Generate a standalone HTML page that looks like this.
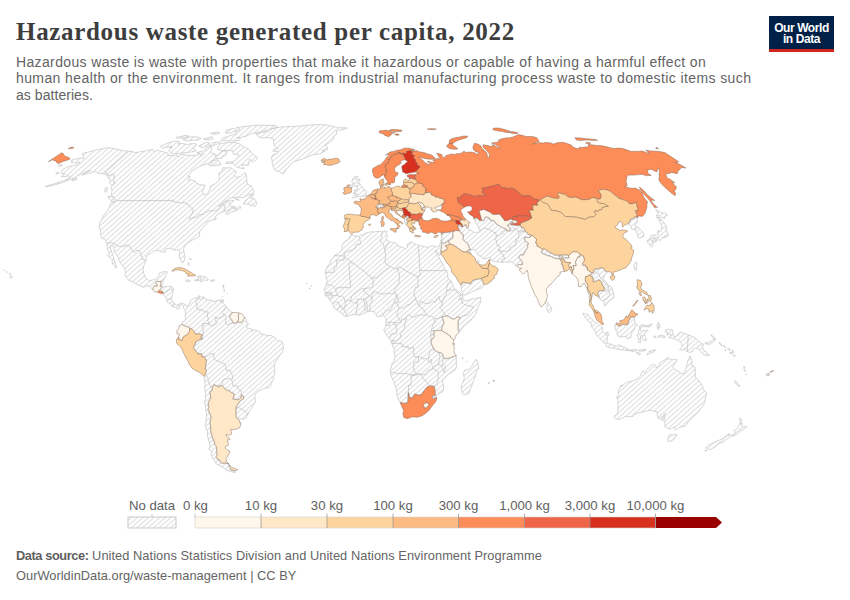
<!DOCTYPE html>
<html><head><meta charset="utf-8"><title>Hazardous waste generated per capita, 2022</title>
<style>
html,body{margin:0;padding:0;background:#fff;}
body{width:850px;height:600px;overflow:hidden;position:relative;font-family:"Liberation Sans",sans-serif;color:#5b5b5b;}
svg{position:absolute;left:0;top:0;}
.nd{fill:url(#h);stroke:#c4c4c4;stroke-width:0.7;stroke-linejoin:round;}
.bd{fill:none;stroke:#bebebe;stroke-width:0.7;stroke-linejoin:round;}
.c{stroke:#735a4a;stroke-width:0.42;stroke-linejoin:round;}
#title{position:absolute;left:16px;top:15.7px;font-family:"Liberation Serif",serif;font-weight:bold;font-size:25px;line-height:32px;color:#3d3d3d;white-space:nowrap;letter-spacing:0.68px;}
#sub{position:absolute;left:16px;top:53.5px;font-size:14px;letter-spacing:0.37px;line-height:16.8px;color:#636363;white-space:nowrap;}
#logo{position:absolute;left:769px;top:16px;width:65px;height:33px;background:#002147;border-bottom:3px solid #ce261e;color:#fff;font-weight:bold;font-size:12px;line-height:12px;text-align:center;letter-spacing:-0.42px;}
#logo div{position:absolute;left:0;width:65px;}
#foot{position:absolute;left:16px;top:546px;font-size:12.8px;line-height:19.8px;color:#646464;white-space:nowrap;}
#foot b{color:#5f5f5f;}
.lg{font-size:13.2px;fill:#616161;font-family:"Liberation Sans",sans-serif;}
</style></head><body>
<svg width="850" height="600" viewBox="0 0 850 600">
<defs><pattern id="h" patternUnits="userSpaceOnUse" width="5.6" height="5.0"><path d="M-1.00,5.89L6.60,-0.89M-1.00,10.89L6.60,4.11M-1.00,0.89L6.60,-5.89" stroke="#e1e1e1" stroke-width="1.3" fill="none"/></pattern></defs>
<g id="map" style="filter:blur(0.5px)">
<path class="nd" d="M219.9,132.9L216.5,132.1L210.3,133.4L215.0,134.4ZM177.5,138.2L183.1,137.9L189.0,136.0L185.3,135.4L176.1,137.5ZM203.3,139.0L208.3,140.0L213.3,139.0L212.1,136.7ZM182.7,139.4L186.1,141.0L192.3,140.4L198.2,140.0L201.0,138.4L196.9,136.7L188.8,137.1ZM217.3,141.8L212.6,142.6L209.4,146.0L211.6,146.2L216.4,144.5L220.5,142.6ZM209.0,144.7L209.2,142.8L205.7,142.4L198.7,146.2L200.3,147.1L203.1,147.5ZM169.8,152.0L172.2,153.8L178.3,153.6L183.1,152.9L187.7,152.5L194.8,151.2L196.2,150.5L192.5,148.3L196.7,144.9L195.7,143.7L191.7,143.7L187.6,144.5L181.6,143.5L177.9,144.0L179.0,143.7L179.1,141.6L174.1,141.2L168.1,142.8L160.4,146.4L162.5,148.1L171.0,146.4L171.9,146.1L170.0,147.3L171.9,147.7L169.2,149.4L169.0,151.2ZM211.5,161.2L211.8,163.3L208.5,164.7L211.0,165.9L214.8,165.4L220.5,164.9L220.5,163.5L217.8,159.6ZM58.1,165.2L59.6,166.3L62.7,165.6L61.2,164.7ZM58.9,172.6L56.1,172.9L55.9,173.9L58.2,173.7ZM71.6,179.9L72.8,180.9L77.1,179.2L76.6,178.2ZM107.9,188.0L105.8,187.5L104.3,190.5L105.7,192.5ZM107.8,197.5L110.4,199.6L111.6,201.6L114.1,202.1L114.1,200.1L113.4,197.3L108.3,196.0ZM185.5,154.9L182.7,154.2L179.2,155.4L178.4,157.2L176.9,155.0L173.0,155.6L167.9,155.4L168.5,154.9L167.3,152.8L163.3,151.8L159.3,150.9L157.4,150.1L154.1,151.8L153.1,150.5L152.9,149.3L146.4,150.6L141.8,151.7L140.2,151.6L135.6,152.7L132.0,151.5L129.0,151.3L123.3,150.5L118.7,149.6L114.3,148.7L108.7,147.5L96.3,149.9L92.9,150.9L84.6,152.9L81.8,154.1L83.7,155.6L83.2,156.9L83.9,158.7L81.5,158.1L75.6,159.0L71.0,160.3L72.6,161.2L71.0,162.4L72.3,162.9L76.6,162.9L80.1,162.2L80.1,162.9L78.7,164.2L75.4,165.2L72.7,165.9L69.2,166.1L66.2,167.5L62.6,169.6L60.9,172.0L61.3,173.7L65.0,173.7L61.3,176.7L65.4,176.5L69.0,175.8L71.0,176.5L66.9,179.2L63.6,180.7L59.2,182.1L56.0,183.4L50.6,184.8L45.0,186.8L50.5,185.8L55.6,184.6L61.0,183.1L69.1,179.9L75.1,177.5L79.1,175.1L82.2,173.4L87.3,171.0L90.5,170.6L85.9,172.2L82.0,175.3L88.7,173.2L90.1,173.4L95.5,171.0L96.6,172.1L98.4,173.4L102.1,173.4L105.3,174.5L107.1,175.8L108.0,177.7L109.4,178.2L110.0,180.7L109.7,183.1L111.0,184.7L112.3,185.6L111.3,187.3L111.2,188.0L112.1,190.5L111.6,193.0L111.3,195.5L114.0,197.3L116.0,199.8L116.1,200.6L114.4,202.6L111.3,202.1L109.2,207.7L105.6,213.3L103.0,216.3L102.1,219.1L99.8,222.6L99.4,226.3L99.7,228.9L100.5,229.4L100.4,232.5L101.1,235.4L101.1,238.1L105.0,239.3L106.5,242.7L106.6,243.1L107.1,244.9L107.5,247.6L107.5,249.7L109.1,252.3L109.5,254.9L107.4,255.3L108.8,257.0L110.7,258.3L112.5,260.2L112.0,262.0L112.7,264.1L115.3,266.7L116.0,268.2L117.0,267.2L115.7,265.0L115.3,263.3L114.2,260.2L113.2,256.2L112.1,252.9L111.1,250.2L110.3,247.1L111.0,245.0L114.0,246.6L114.1,249.2L114.5,252.3L116.6,255.2L118.9,258.3L119.3,261.2L121.5,264.1L124.0,267.5L125.7,271.9L125.5,274.1L124.4,274.8L127.0,278.3L128.5,280.3L131.3,281.2L132.8,282.1L136.1,284.0L140.2,286.0L143.5,287.2L146.6,285.9L149.5,286.3L152.7,289.7L152.8,288.2L152.8,288.1L152.8,288.1L152.9,288.1L152.9,288.0L154.1,285.9L154.2,285.9L154.2,285.9L154.2,285.9L154.2,285.8L154.3,285.8L154.3,285.8L154.3,285.8L154.4,285.8L154.4,285.8L154.4,285.8L157.1,285.7L157.2,285.3L155.3,283.2L155.2,283.2L155.2,283.2L155.2,283.1L155.2,283.1L155.2,283.1L155.2,283.1L155.2,283.0L155.2,283.0L155.2,283.0L155.2,282.9L155.2,282.9L155.2,282.9L155.2,282.8L155.2,282.8L155.2,282.8L156.4,281.3L156.5,281.3L156.5,281.3L156.5,281.3L156.5,281.2L156.6,281.2L156.6,281.2L156.6,281.2L156.7,281.2L156.7,281.2L160.9,281.2L161.0,281.2L161.0,281.2L161.0,281.2L161.0,281.2L161.1,281.2L161.1,281.2L161.1,281.2L161.2,281.2L161.2,281.3L161.2,281.3L161.2,281.3L161.2,281.4L161.3,281.4L161.3,281.4L161.3,281.5L161.3,281.5L161.3,281.5L161.3,281.6L160.6,286.2L160.9,286.2L160.9,286.2L161.0,286.2L161.0,286.2L161.2,286.2L162.4,284.9L163.0,282.3L163.4,281.0L163.1,279.7L163.8,279.7L165.2,277.6L165.7,275.3L167.5,272.8L166.9,271.6L164.8,271.6L160.9,272.4L159.2,273.2L158.6,276.2L155.2,279.5L152.4,280.0L149.1,280.6L147.9,279.5L145.6,277.9L143.6,273.2L143.0,269.3L144.4,264.1L146.1,260.3L146.0,258.1L147.0,255.7L148.9,254.2L151.4,252.9L153.6,251.3L156.4,250.4L159.7,250.8L161.0,251.5L163.8,252.1L165.5,252.3L165.2,251.8L165.3,249.5L166.8,248.7L169.1,248.2L170.8,248.8L172.3,248.7L174.3,250.5L177.7,249.5L178.6,250.5L179.7,252.6L179.3,255.7L179.9,258.3L180.5,259.9L181.7,262.4L183.3,262.2L184.2,260.7L184.9,258.1L184.3,253.6L183.6,248.7L185.5,244.5L188.3,242.7L190.2,241.4L193.3,239.5L197.0,237.7L199.6,236.2L199.6,231.9L199.8,231.2L201.0,230.2L202.7,227.8L203.5,226.5L206.1,224.4L206.8,222.1L211.6,220.3L213.9,219.8L216.0,219.5L216.4,218.5L214.5,217.7L215.5,216.7L217.1,214.4L221.4,212.6L224.9,211.3L227.3,210.3L230.6,209.0L230.5,210.0L227.2,211.8L225.8,213.9L227.0,214.6L231.8,211.8L237.7,210.0L240.7,208.2L240.0,205.7L237.0,209.0L232.5,208.2L231.2,207.7L230.9,205.7L229.1,203.1L231.1,203.1L233.9,200.8L230.7,200.1L225.0,202.1L220.7,205.7L218.0,206.2L224.0,201.8L227.8,199.8L230.9,197.5L235.7,197.4L239.7,197.4L243.6,197.5L247.5,195.0L250.6,194.5L253.9,192.5L254.0,190.5L252.1,187.5L251.7,186.1L248.3,184.8L246.6,181.2L246.8,177.0L245.2,172.5L243.1,173.9L240.6,176.3L236.3,177.5L234.4,175.8L236.5,171.3L235.0,171.0L233.1,169.4L231.0,167.7L227.6,168.0L223.0,167.7L221.9,171.5L219.0,173.4L219.1,176.5L219.4,179.4L217.9,181.9L215.2,183.8L210.1,186.3L210.1,188.5L208.8,191.8L206.2,194.3L203.8,194.8L203.1,192.5L202.7,190.5L205.4,185.1L200.3,184.8L196.3,183.1L195.0,180.9L191.8,179.9L188.5,180.7L190.2,176.5L188.1,176.3L192.3,170.8L198.7,166.8L202.5,165.2L208.1,163.5L211.5,161.2L214.5,159.4L215.1,158.5L221.3,158.3L225.7,154.9L226.9,152.7L227.4,150.9L221.4,151.2L219.4,153.8L214.9,156.5L215.2,153.8L212.1,153.4L211.0,151.6L211.1,150.5L212.1,148.3L210.8,146.2L206.0,147.9L204.5,150.5L203.5,151.6L202.6,150.7L196.7,152.7L197.8,153.4L200.8,153.8L202.6,152.8L203.3,154.9L200.3,156.5L201.1,154.5L199.1,153.8L197.0,155.4L193.6,155.4L190.2,155.4ZM191.2,258.9L189.5,258.3L190.2,259.4L191.3,259.9ZM189.0,263.0L188.2,262.5L188.0,264.9L188.9,265.4ZM3.8,270.9L4.1,270.1L3.1,270.3ZM6.2,271.8L6.6,272.6L7.4,272.0ZM9.3,273.3L9.8,274.2L10.8,273.7ZM10.0,276.6L10.4,278.6L12.2,277.6L12.4,276.5L10.7,275.2ZM199.2,279.6L197.8,279.5L194.5,280.1L195.9,280.9L198.8,280.6L200.5,280.9L201.2,282.1L201.9,281.8L204.8,279.9L207.5,280.5L208.4,279.5L206.6,277.6L205.1,276.9L203.4,276.2L200.5,276.1L197.3,276.2L197.2,276.6L198.4,278.2ZM214.5,280.1L211.0,279.9L210.8,281.2L213.8,281.0ZM185.7,280.5L188.1,281.7L190.4,281.0L188.7,279.9L185.6,280.1ZM222.1,296.2L222.1,296.7L222.4,296.7L222.5,296.2ZM169.1,303.0L170.2,303.2L171.2,305.6L173.0,307.0L175.5,307.1L176.2,308.2L177.5,309.2L179.6,308.6L178.8,306.9L179.7,306.3L180.9,304.6L182.1,304.6L183.9,306.1L183.3,307.0L183.7,308.4L184.4,309.2L185.3,310.5L185.4,313.4L185.0,317.0L185.9,317.8L184.7,321.2L182.6,321.5L182.0,323.3L181.9,323.9L182.0,323.9L182.0,323.9L182.0,323.9L182.1,323.9L182.1,323.9L184.3,325.6L188.4,326.9L188.5,326.9L188.5,326.9L188.5,326.9L190.1,328.0L192.2,329.0L192.2,329.0L192.2,329.0L192.2,329.0L192.3,329.1L194.1,331.0L194.1,331.0L194.2,331.1L194.2,331.1L195.7,333.9L198.0,333.4L198.0,333.4L198.1,333.4L198.1,333.4L198.1,333.4L198.2,333.4L202.2,334.7L202.2,334.7L202.3,334.7L202.3,334.8L202.3,334.8L202.4,334.8L202.4,334.8L202.4,334.9L202.4,334.9L202.4,334.9L202.4,334.9L202.5,335.0L202.5,335.0L202.5,335.0L202.5,335.1L202.5,335.1L202.4,335.1L202.4,335.2L202.4,335.2L201.1,337.8L202.6,338.7L202.6,338.7L202.7,338.7L202.7,338.7L202.7,338.7L202.7,338.8L202.7,338.8L202.8,338.8L202.8,338.9L202.8,338.9L202.8,338.9L202.8,339.0L202.8,339.0L202.8,339.0L202.8,339.1L202.8,339.1L202.7,339.1L202.7,339.2L202.7,339.2L202.7,339.2L202.6,339.2L202.6,339.3L202.6,339.3L202.6,339.3L202.5,339.3L202.5,339.3L202.5,339.3L200.6,339.4L196.0,341.8L195.4,344.0L195.4,344.0L195.4,344.1L194.3,346.1L193.8,347.5L196.4,351.5L197.8,352.8L197.8,352.8L197.8,352.8L197.9,352.9L197.9,352.9L197.9,352.9L197.9,353.0L198.1,353.7L201.5,353.5L201.5,353.5L201.5,353.5L201.6,353.5L201.6,353.5L201.6,353.5L201.7,353.5L201.7,353.5L201.7,353.6L201.8,353.6L201.8,353.6L201.8,353.6L201.8,353.7L201.8,353.7L201.8,353.7L201.8,353.8L201.9,353.8L202.0,356.3L204.0,356.2L204.0,356.2L204.1,356.2L204.1,356.2L204.1,356.2L204.2,356.3L204.2,356.3L204.2,356.3L204.3,356.3L204.3,356.3L204.3,356.4L204.3,356.4L206.7,360.4L206.7,360.5L206.7,360.5L206.7,360.5L206.7,360.6L206.7,360.6L206.7,360.7L206.7,360.7L206.1,363.6L205.6,366.6L206.2,367.8L206.2,367.8L206.2,367.8L206.2,367.9L206.2,367.9L206.2,367.9L206.2,368.0L206.2,368.0L206.2,368.0L206.2,368.1L206.2,368.1L206.2,368.1L206.1,368.2L206.1,368.2L206.1,368.2L206.1,368.2L206.0,368.2L205.3,368.6L206.6,370.0L206.6,370.1L206.6,370.1L206.6,370.1L206.6,370.2L206.7,370.2L206.7,370.2L206.7,370.3L206.7,370.3L206.7,370.3L206.6,370.4L206.3,371.4L205.9,373.7L205.9,373.8L205.9,373.8L205.9,373.8L205.0,375.4L205.0,375.4L205.0,375.4L205.0,375.5L205.0,375.5L204.9,375.5L204.0,376.2L203.9,376.2L203.9,376.2L203.9,376.2L203.9,376.2L203.8,376.2L204.7,380.7L205.1,385.4L204.6,388.1L205.1,389.6L205.5,394.3L205.3,398.7L204.6,402.4L205.6,406.0L205.2,407.1L205.8,408.9L206.5,414.2L206.1,420.6L205.8,423.8L205.1,425.1L205.9,427.1L207.5,431.9L207.5,434.9L207.8,437.0L208.7,440.9L209.7,442.7L210.1,446.5L208.8,449.3L212.0,451.6L210.9,454.2L212.7,458.0L215.1,461.7L217.0,464.7L219.7,465.5L223.8,468.0L225.5,469.7L230.2,471.4L235.0,472.8L235.5,470.9L231.3,470.5L231.3,470.5L231.3,470.5L231.2,470.5L231.2,470.5L231.2,470.5L231.1,470.5L231.1,470.4L231.1,470.4L231.1,470.4L231.1,470.4L231.0,470.3L228.6,464.7L228.6,464.7L228.6,464.7L228.6,464.6L228.6,464.6L228.6,464.6L228.6,464.5L228.6,464.5L228.6,464.5L228.6,464.5L228.6,464.4L228.7,464.4L228.7,464.4L228.7,464.3L228.7,464.3L228.8,464.3L228.8,464.3L228.8,464.3L228.9,464.3L228.9,464.3L228.9,464.3L229.0,464.3L229.0,464.3L229.0,464.2L229.0,464.2L228.9,464.2L225.5,463.3L221.8,463.3L221.7,463.3L221.7,463.3L221.7,463.3L221.6,463.3L221.6,463.3L221.6,463.3L220.5,462.5L220.4,462.5L220.4,462.5L220.4,462.5L220.4,462.4L220.3,462.4L220.3,462.4L219.4,460.3L217.6,459.8L217.6,459.8L217.5,459.8L217.5,459.8L217.5,459.7L217.5,459.7L217.4,459.7L217.4,459.7L217.4,459.6L217.4,459.6L215.8,456.3L215.8,456.3L215.8,456.3L215.8,456.2L215.8,456.2L215.8,456.2L215.8,456.1L215.8,456.1L215.8,456.1L215.8,456.0L215.9,456.0L215.9,456.0L217.0,454.6L216.2,452.0L216.2,451.9L216.2,451.9L216.2,451.9L216.2,451.8L216.2,451.8L216.6,449.6L216.1,446.6L214.2,444.2L214.2,444.1L214.2,444.1L214.2,444.1L214.2,444.0L214.2,444.0L214.2,444.0L214.1,442.0L212.7,438.9L212.7,438.9L211.4,435.0L211.4,435.0L210.5,431.1L210.5,431.1L210.5,431.0L210.4,427.2L209.8,423.3L209.8,423.3L209.8,423.2L209.8,423.2L210.1,420.1L210.2,420.0L210.2,420.0L211.0,417.3L209.9,414.2L207.8,409.6L207.8,409.5L207.8,409.5L207.8,409.4L207.8,409.4L207.8,409.4L207.8,409.3L207.8,409.3L208.6,406.8L207.9,404.5L207.9,404.5L207.9,404.5L207.9,404.4L207.9,404.4L208.2,402.3L208.2,402.3L208.2,402.2L208.3,402.2L209.2,400.1L209.3,400.1L209.3,400.1L210.7,398.1L209.6,392.0L209.6,392.0L209.6,391.9L209.6,391.9L209.6,391.9L209.6,391.8L209.6,391.8L209.6,391.8L209.6,391.7L209.7,391.7L209.7,391.7L209.7,391.7L209.7,391.6L209.8,391.6L211.9,390.4L212.2,388.1L211.9,387.8L211.9,387.8L211.9,387.7L211.8,387.7L211.8,387.7L211.8,387.6L211.8,387.6L211.8,387.6L211.8,387.5L211.8,387.5L211.8,387.5L211.8,387.4L211.8,387.4L211.8,387.4L211.9,387.4L213.6,384.7L213.6,384.7L213.6,384.6L213.6,384.6L213.7,384.6L213.7,384.6L213.7,384.6L213.8,384.5L213.8,384.5L213.8,384.5L213.9,384.5L213.9,384.5L213.9,384.5L214.0,384.5L216.5,385.3L216.6,385.3L216.6,385.4L216.6,385.4L216.6,385.4L218.5,386.9L219.0,385.3L219.0,385.3L219.0,385.2L219.0,385.2L219.1,385.2L219.1,385.1L219.1,385.1L219.1,385.1L219.2,385.1L219.2,385.1L219.2,385.1L219.3,385.1L219.3,385.1L219.3,385.1L219.4,385.1L219.4,385.1L222.3,385.7L222.3,385.7L222.4,385.7L222.4,385.7L222.4,385.8L222.4,385.8L222.5,385.8L226.5,389.8L228.7,390.3L228.8,390.3L228.8,390.3L228.8,390.3L228.8,390.3L231.7,392.4L234.4,393.7L234.5,393.7L234.5,393.7L234.5,393.8L234.6,393.8L234.6,393.8L234.6,393.8L234.6,393.9L234.6,393.9L234.6,393.9L234.6,394.0L234.6,394.0L234.6,394.0L234.6,394.1L234.6,394.1L233.2,398.8L237.7,399.4L238.7,399.0L241.0,397.5L240.9,394.8L240.9,394.8L240.9,394.7L240.9,394.7L240.9,394.7L240.9,394.6L240.9,394.6L240.9,394.6L241.0,394.6L241.0,394.5L241.0,394.5L241.0,394.5L241.1,394.5L241.1,394.5L241.1,394.5L241.2,394.4L241.2,394.4L241.2,394.4L241.3,394.5L241.3,394.5L241.4,394.5L241.4,394.5L241.4,394.5L243.7,396.1L243.7,396.1L243.8,396.1L243.8,396.1L243.8,396.2L243.8,396.2L243.8,396.2L243.9,396.3L243.9,396.3L243.9,396.3L243.9,396.4L243.8,398.8L243.8,398.9L243.8,398.9L243.8,398.9L243.8,399.0L243.8,399.0L243.8,399.0L243.7,399.1L243.7,399.1L243.7,399.1L243.7,399.1L243.6,399.1L243.6,399.2L241.6,400.0L239.7,402.1L236.5,406.9L236.2,412.8L236.4,416.7L236.5,416.8L237.6,417.9L241.3,419.1L244.1,419.2L246.3,417.8L246.9,416.1L249.0,411.9L250.7,409.7L252.3,407.1L253.3,404.5L255.1,402.4L255.3,400.0L254.8,396.4L254.9,394.5L256.1,393.2L259.4,390.6L261.4,390.1L263.1,388.9L266.2,387.9L268.9,387.9L271.0,385.4L271.1,383.6L272.3,381.0L273.3,379.1L273.4,376.5L274.5,374.2L274.9,369.7L274.5,366.6L274.4,364.5L275.4,361.9L277.6,358.8L278.6,356.7L279.8,355.4L281.6,353.2L282.5,352.0L283.3,349.0L283.5,346.7L283.0,345.0L282.4,341.8L280.6,341.3L277.6,340.3L274.8,337.7L271.3,335.4L267.2,335.6L263.7,334.1L261.4,334.5L260.7,332.7L257.5,330.7L254.5,329.6L251.7,331.7L252.9,329.8L251.9,328.8L250.6,328.5L247.3,328.0L246.4,327.5L248.5,323.6L246.7,322.5L245.8,317.8L244.9,317.2L242.6,321.6L242.6,321.7L242.6,321.7L242.6,321.7L241.9,322.5L241.8,322.5L241.8,322.5L241.8,322.6L241.8,322.6L241.7,322.6L241.7,322.6L241.7,322.6L241.6,322.6L241.6,322.6L241.6,322.6L237.7,322.2L234.8,323.5L234.8,323.5L234.8,323.5L234.7,323.5L234.7,323.5L234.7,323.5L234.6,323.5L233.2,323.3L233.2,323.2L233.2,323.2L233.1,323.2L233.1,323.2L233.1,323.2L233.0,323.2L233.0,323.1L233.0,323.1L233.0,323.1L231.2,319.5L229.6,317.8L229.6,317.8L229.5,317.8L229.5,317.7L229.5,317.7L229.5,317.7L229.5,317.6L229.5,317.6L229.5,317.6L229.5,317.5L229.5,317.5L230.0,315.1L230.0,315.1L230.0,315.1L230.0,315.0L230.0,315.0L230.1,315.0L230.1,315.0L230.1,314.9L231.3,314.0L231.7,312.4L231.7,312.4L231.7,312.3L231.7,312.3L231.7,312.3L231.7,312.2L231.8,312.2L229.8,310.3L229.0,310.0L226.1,306.3L223.8,303.7L222.2,302.2L220.5,302.2L219.9,301.4L221.6,300.1L221.5,301.6L223.6,301.6L223.8,299.8L221.6,300.1L221.7,300.0L219.7,300.1L217.2,300.2L215.1,301.5L213.9,301.6L211.9,300.3L210.1,300.3L207.5,300.6L206.7,298.8L203.6,298.0L203.2,296.2L202.4,297.7L200.7,299.3L199.4,299.4L198.7,297.7L200.1,297.1L200.7,296.4L199.5,295.5L198.1,296.9L196.2,298.0L193.5,298.5L191.9,299.2L190.3,300.9L190.0,303.0L188.1,304.8L186.8,306.9L185.8,305.4L184.4,303.7L182.2,303.1L180.1,303.6L177.9,304.8L176.3,305.0L174.8,303.7L174.0,303.1L173.1,301.9L171.7,299.5L171.7,296.7L172.5,294.1L172.9,291.5L173.6,288.9L172.0,286.8L169.8,286.4L167.5,286.4L165.2,286.8L163.0,286.6L162.7,286.8L162.7,286.9L162.7,286.9L162.8,286.9L162.8,286.9L162.8,287.0L162.8,287.0L162.8,287.0L162.8,287.1L162.8,287.1L162.8,287.1L162.7,287.2L162.7,287.2L162.7,287.2L162.7,287.3L162.7,287.3L160.2,289.6L159.9,290.2L161.4,291.3L163.1,291.7L163.2,291.7L163.2,291.7L163.2,291.7L163.3,291.7L163.3,291.7L163.3,291.8L163.3,291.8L163.4,291.8L163.4,291.8L163.4,291.9L163.4,291.9L163.4,291.9L163.4,292.0L163.4,292.0L163.4,292.0L163.4,292.1L163.0,293.6L163.0,293.7L163.0,293.7L163.0,293.7L163.0,293.7L163.6,294.1L162.9,294.3L165.4,297.2L167.1,299.2L166.7,301.1L168.2,303.1ZM225.5,133.1L230.6,133.1L236.8,130.3L234.3,128.3L226.0,130.3ZM228.5,136.6L228.2,136.5L222.9,137.9L220.9,140.6L229.1,141.0L238.8,140.6L240.5,138.8L236.9,137.5L240.1,137.5L245.8,136.4L251.6,133.4L257.2,132.9L270.1,129.1L277.6,127.0L276.2,125.6L268.3,125.3L256.1,125.3L245.0,126.5L236.6,127.6L240.1,129.3L235.4,132.1L236.2,134.0L230.0,135.6ZM328.6,143.0L331.5,141.0L334.5,137.9L333.4,136.2L336.9,134.0L336.1,131.2L340.7,130.0L347.4,128.3L346.7,127.8L338.4,127.8L333.2,126.5L326.8,125.1L319.0,124.5L309.3,125.0L300.4,126.0L291.8,126.5L280.4,127.0L272.6,128.6L269.6,131.2L264.8,131.8L255.8,133.6L256.8,135.0L259.1,136.9L261.8,137.9L269.0,137.5L273.4,139.0L273.6,141.0L273.9,144.5L274.6,146.2L278.4,148.3L273.8,149.4L272.9,151.2L278.5,151.6L278.0,152.7L272.8,154.9L271.4,157.4L272.1,160.6L272.2,163.5L272.8,165.2L274.1,168.7L275.3,170.3L279.4,171.8L282.5,173.9L284.7,172.2L286.8,168.7L290.6,165.2L293.5,161.7L298.1,160.3L301.1,159.6L306.9,157.2L312.7,154.7L319.7,153.8L325.3,150.9L322.1,150.5L327.3,149.4L327.7,147.3L325.0,145.1ZM223.5,150.5L227.7,150.5L232.5,150.7L233.4,154.2L238.3,154.5L239.1,156.0L236.2,159.4L233.0,161.7L226.8,161.9L225.8,163.5L233.0,163.3L235.2,165.6L238.5,167.7L244.3,168.7L241.9,164.7L248.2,165.6L249.1,162.9L249.4,159.0L252.2,161.9L255.6,160.3L258.0,158.1L257.2,157.2L254.6,155.6L251.2,152.7L250.0,150.5L247.3,148.3L243.5,146.8L241.5,145.1L240.5,144.3L235.5,142.6L229.4,142.4L221.3,143.5L219.0,145.1L218.0,147.3L217.2,149.2L220.6,150.1ZM349.9,185.4L349.9,185.4L349.9,185.5L349.9,185.5L349.9,185.5L349.9,185.6L349.9,185.6L349.8,185.6L349.8,185.7L349.8,185.7L349.1,186.4L349.1,186.4L349.0,186.5L348.5,186.9L349.4,187.3L351.4,187.4L351.4,187.4L351.5,187.4L351.5,187.5L351.5,187.5L351.6,187.5L351.6,187.5L351.6,187.5L351.6,187.6L351.7,187.6L351.7,187.6L351.7,187.6L351.7,187.7L351.7,187.7L351.7,187.7L351.7,187.9L351.8,187.9L353.0,187.0L352.7,186.3L351.7,185.0L350.2,185.1L349.9,185.3L349.9,185.4ZM364.1,190.5L363.7,189.0L362.7,187.3L360.8,185.6L359.7,183.6L357.4,183.1L358.6,182.4L359.5,180.3L360.1,179.6L359.9,179.0L355.6,179.4L356.0,178.5L357.8,176.7L354.2,176.8L353.6,177.6L352.6,178.7L352.7,179.9L351.7,181.4L352.8,183.1L352.4,184.8L354.1,183.4L354.5,184.3L353.7,185.6L354.1,186.4L357.5,185.7L356.5,186.8L358.0,187.8L357.7,188.0L357.7,189.4L357.5,189.8L354.5,189.8L355.1,190.0L354.3,191.0L355.5,190.8L355.4,192.0L353.0,193.3L353.4,193.9L355.6,194.1L357.2,194.4L358.2,194.1L357.6,195.0L354.6,195.5L353.5,196.7L352.1,197.9L353.1,198.1L355.1,197.2L356.3,197.4L358.6,196.7L359.5,196.5L361.3,196.2L364.0,196.2L365.4,195.8L366.3,195.1L366.3,194.6L365.3,194.3L365.9,193.5L366.9,191.8L366.0,190.6ZM234.6,198.2L235.9,199.6L239.3,200.3L238.9,199.6ZM256.3,201.8L255.1,199.3L252.5,198.0L250.4,198.3L251.6,197.5L253.8,194.0L250.9,194.8L248.5,198.0L244.3,201.7L245.3,201.8L242.9,204.1L246.6,204.1L249.7,204.1L250.2,205.9L253.2,204.4L253.2,205.9L254.9,206.6L256.4,204.3ZM383.8,206.5L383.9,206.5L383.9,206.5L383.9,206.4L383.9,206.4L384.0,206.4L384.0,206.4L384.0,206.4L384.0,206.4L382.9,205.8L382.9,205.8L382.9,205.8L382.8,205.8L382.8,205.8L382.8,205.7L382.8,205.7L382.8,205.7L382.8,205.6L382.7,205.6L382.7,205.6L382.6,204.6L381.7,204.2L381.0,204.0L380.4,204.4L380.3,204.4L380.3,204.5L380.3,204.5L380.2,204.5L380.2,204.5L380.2,204.5L379.0,204.5L377.8,205.2L376.3,206.8L376.2,207.2L377.3,206.9L377.4,206.8L377.4,206.8L377.4,206.8L377.5,206.8L377.5,206.8L377.5,206.9L377.6,206.9L377.6,206.9L377.6,206.9L377.6,206.9L377.7,206.9L377.7,207.0L377.7,207.0L377.7,207.0L377.7,207.1L377.8,207.1L377.8,207.1L377.8,207.1L377.9,208.1L377.9,208.1L378.0,208.1L379.4,208.1L379.8,207.5L379.8,207.5L379.9,207.4L380.6,206.8L380.6,206.8L380.6,206.8L380.6,206.7L380.7,206.7L380.7,206.7L380.7,206.7L380.8,206.7L380.8,206.7L380.8,206.7L380.9,206.7L380.9,206.7L380.9,206.7L381.0,206.8L381.0,206.8L381.0,206.8L381.1,206.8L381.1,206.8L381.9,207.9L382.2,206.8L382.2,206.8L382.2,206.8L382.2,206.7L382.3,206.7L382.3,206.7L382.3,206.7L382.3,206.6L382.4,206.6L382.4,206.6L382.4,206.6L382.5,206.6L382.5,206.6L382.5,206.6L382.6,206.6L382.6,206.6L382.6,206.6L382.7,206.6L382.7,206.6L382.7,206.6L382.8,206.7L382.8,206.7L383.2,207.1L383.9,207.2L383.8,206.7L383.8,206.7L383.8,206.7L383.8,206.6L383.8,206.6L383.8,206.6ZM232.0,206.4L232.4,207.2L235.2,208.2L236.5,207.1ZM407.6,221.8L407.6,221.6L407.0,221.1L407.0,221.1L406.9,221.0L406.5,220.4L406.4,220.4L406.4,220.3L406.4,220.3L406.4,220.3L406.4,220.2L406.4,220.2L406.4,220.2L406.5,218.8L406.5,218.8L406.5,218.7L406.5,218.7L406.5,218.7L406.5,218.7L406.5,218.6L406.6,218.6L406.6,218.6L406.6,218.6L407.4,218.0L407.4,217.9L407.5,217.9L407.5,217.9L408.5,217.6L408.7,216.8L408.0,216.2L407.1,215.7L406.9,216.1L406.8,216.1L406.8,216.1L406.8,216.2L406.3,216.6L405.8,217.3L405.8,217.3L405.8,217.3L405.8,217.3L405.7,217.4L405.7,217.4L405.7,217.4L405.6,217.4L405.6,217.4L405.6,217.4L404.8,217.4L404.6,217.8L404.6,218.8L404.6,218.9L404.6,218.9L404.6,218.9L404.6,219.0L404.6,219.0L404.5,219.0L404.5,219.1L404.5,219.1L404.5,219.1L404.5,219.1L404.4,219.2L404.4,219.2L404.4,219.2L404.3,219.2L404.3,219.2L404.5,220.3L404.4,222.0L404.7,222.5L405.9,223.9L406.0,224.2L406.6,223.9L407.0,223.3ZM469.5,250.0L469.0,249.8L468.0,250.3L467.3,251.8L468.9,252.0L468.9,252.0L468.9,252.0L469.0,252.0L469.0,252.0L469.0,252.1L469.1,252.1L469.1,252.1L469.1,252.1L469.1,252.2L469.7,253.2L471.0,253.2L470.2,251.5L469.7,251.4L470.1,250.9L470.7,250.2L469.6,250.1L469.5,250.1L469.5,250.1ZM305.9,283.3L305.9,283.8L306.6,283.8L306.7,283.3ZM222.7,285.3L222.8,286.3L223.8,286.4L224.1,285.3ZM311.8,285.7L311.2,285.7L311.2,286.4L311.8,286.4ZM484.1,284.7L484.1,284.7L481.2,278.8L475.0,279.8L472.7,280.8L470.7,284.0L470.7,284.0L470.7,284.0L470.7,284.0L470.7,284.1L470.6,284.1L470.6,284.1L470.6,284.1L470.5,284.1L470.5,284.1L470.5,284.1L470.4,284.1L470.4,284.1L470.4,284.1L470.3,284.1L470.3,284.1L468.9,283.5L466.2,282.9L464.0,282.9L464.0,282.9L462.5,282.7L462.2,284.5L462.2,284.5L462.2,284.5L462.2,284.6L462.1,284.6L462.1,284.6L462.1,284.7L462.1,284.7L462.0,284.7L460.9,285.5L460.9,285.5L460.9,285.5L460.9,285.5L460.8,285.5L460.8,285.6L460.8,285.6L461.2,288.9L462.5,293.3L462.9,295.0L464.2,295.1L466.5,294.6L469.8,293.0L473.2,291.5L475.6,290.2L478.7,288.9L482.5,287.3L484.2,284.8L484.2,284.8L484.2,284.8L484.1,284.8L484.1,284.8ZM223.3,287.3L223.3,288.2L223.7,288.2L223.8,287.4ZM309.9,289.1L310.0,288.3L309.2,288.3L309.3,289.0ZM223.8,289.3L224.0,290.2L224.5,290.3L224.6,289.5ZM224.0,291.3L224.0,292.1L224.3,292.1L224.4,291.3ZM227.5,293.4L227.1,293.3L227.2,293.9L227.5,293.9ZM423.6,246.2L420.7,245.8L418.8,245.4L416.2,244.4L414.7,244.0L413.1,242.5L410.8,242.2L408.7,242.9L407.6,244.2L407.6,247.4L405.5,248.9L403.2,247.6L400.1,246.6L397.8,245.8L396.6,243.5L394.6,242.7L392.4,242.2L390.5,242.3L388.8,241.5L387.5,240.2L385.5,239.5L386.9,237.3L387.6,236.2L386.6,234.6L386.3,233.0L387.3,231.3L385.7,231.9L384.6,230.6L382.0,231.6L380.2,231.7L377.1,231.3L374.5,232.1L372.1,231.7L370.1,232.0L366.3,232.8L363.7,234.1L361.3,234.9L358.7,236.4L357.0,235.9L354.2,236.2L352.0,234.3L350.7,234.6L350.1,236.2L348.7,239.2L346.9,240.3L344.9,241.2L343.2,243.5L341.9,245.8L342.2,248.7L340.9,251.3L338.3,253.6L334.8,255.1L333.6,257.3L331.1,259.8L330.2,262.8L327.7,266.2L325.4,270.9L325.0,273.7L326.2,274.2L326.1,277.4L327.2,280.8L325.9,286.1L323.6,289.6L324.7,290.4L325.1,292.5L325.1,293.8L325.3,295.8L327.8,297.1L329.1,299.3L330.0,300.6L332.1,303.2L333.0,304.4L333.1,305.8L334.8,308.7L337.1,310.0L338.7,311.6L341.9,313.4L342.8,315.0L346.1,316.6L349.7,315.7L354.3,314.3L356.4,314.7L358.7,315.6L363.0,313.5L365.6,312.9L366.3,312.1L367.2,311.8L369.7,311.4L371.3,311.3L373.9,311.6L375.9,314.4L377.5,316.8L379.6,316.5L382.6,316.1L383.1,315.6L384.0,316.3L385.6,317.8L386.3,320.2L386.1,321.9L385.6,325.4L385.2,327.0L384.9,328.5L383.6,329.7L384.9,332.2L386.5,335.0L389.1,338.3L390.8,340.5L391.1,341.0L391.6,343.0L391.7,343.8L392.9,346.3L394.3,349.7L393.8,351.0L393.8,352.5L395.1,356.2L394.2,360.9L392.1,363.0L391.2,367.7L390.3,369.7L390.3,373.0L390.8,375.0L393.6,381.2L396.0,387.9L396.8,393.2L397.3,397.4L398.5,399.8L399.9,402.3L399.9,402.3L399.9,402.3L400.0,402.3L400.0,402.3L400.0,402.3L400.1,402.3L400.1,402.3L402.2,402.5L402.2,402.5L402.3,402.6L403.5,402.9L405.6,403.1L407.6,401.9L408.0,392.6L408.0,392.5L408.0,392.5L408.1,392.5L408.1,392.4L408.1,392.4L408.1,392.4L408.1,392.3L408.1,392.3L408.2,392.3L408.2,392.3L408.2,392.3L408.3,392.2L408.3,392.2L408.3,392.2L408.4,392.2L408.4,392.2L408.4,392.2L408.5,392.2L408.5,392.3L408.5,392.3L408.6,392.3L408.6,392.3L408.6,392.3L408.6,392.3L408.7,392.4L408.7,392.4L408.7,392.4L408.7,392.5L408.7,392.5L410.0,397.8L412.4,397.2L414.0,394.4L414.1,394.3L414.1,394.3L414.1,394.3L414.1,394.3L414.8,393.7L414.9,393.7L414.9,393.7L414.9,393.7L415.0,393.7L415.0,393.7L415.0,393.7L415.1,393.7L415.1,393.7L415.1,393.7L415.2,393.7L418.0,394.7L420.7,394.7L423.5,391.1L426.1,387.8L426.1,387.8L427.0,386.7L427.0,386.7L427.1,386.7L427.1,386.7L427.1,386.6L429.6,385.6L429.6,385.6L429.6,385.6L429.7,385.6L429.7,385.6L429.7,385.6L434.1,386.1L434.1,386.1L434.2,386.1L434.2,386.1L434.2,386.1L434.3,386.2L434.3,386.2L434.3,386.2L434.3,386.2L434.4,386.3L434.4,386.3L434.4,386.3L434.4,386.3L434.4,386.4L435.6,391.9L435.6,391.9L435.6,391.9L435.6,391.9L435.4,395.7L435.4,395.8L435.4,395.8L435.4,395.8L435.4,395.9L435.3,395.9L435.3,395.9L435.3,395.9L435.3,396.0L435.2,396.0L435.2,396.0L435.2,396.0L435.1,396.0L435.1,396.1L435.1,396.1L435.0,396.1L435.0,396.1L435.0,396.1L434.9,396.0L434.9,396.0L434.9,396.0L433.7,395.4L433.2,395.5L432.7,396.7L432.6,397.8L433.4,398.8L435.0,397.6L435.0,397.6L435.0,397.6L435.1,397.6L435.1,397.6L435.1,397.6L435.2,397.6L435.2,397.6L436.9,397.7L436.4,395.8L437.5,394.0L442.0,392.4L443.4,390.1L443.6,385.7L442.6,382.5L442.5,379.8L445.9,377.1L447.6,374.7L449.9,373.4L454.6,370.5L456.5,367.3L456.8,365.8L456.2,361.8L456.4,360.9L456.3,355.8L450.7,357.8L450.7,357.8L447.2,358.9L447.2,358.9L447.1,358.9L447.1,358.9L447.1,358.9L443.5,358.5L443.5,358.5L443.5,358.5L443.4,358.5L443.4,358.5L443.4,358.5L443.4,358.5L443.3,358.4L443.3,358.4L443.3,358.4L443.3,358.4L443.2,358.3L443.2,358.3L443.2,358.3L442.4,354.3L441.4,353.1L439.1,352.9L439.1,352.9L439.0,352.9L439.0,352.8L436.6,351.8L436.6,351.8L436.6,351.8L436.5,351.8L434.0,349.8L434.0,349.8L434.0,349.8L434.0,349.7L434.0,349.7L433.9,349.7L431.1,343.8L431.0,343.8L431.0,343.7L431.0,343.7L431.0,343.7L430.8,339.6L430.8,339.6L430.8,339.6L430.8,339.5L430.9,339.5L430.9,339.5L430.9,339.4L430.9,339.4L430.9,339.4L430.9,339.4L431.0,339.3L431.0,339.3L431.0,339.3L431.1,339.3L431.1,339.3L432.4,338.9L433.5,337.2L433.5,337.2L433.5,337.2L434.2,336.4L433.6,334.4L433.5,334.3L433.5,334.3L433.5,334.3L433.5,334.2L433.5,334.2L433.6,334.2L433.6,334.1L434.2,332.3L433.4,330.9L433.4,330.9L433.4,330.9L433.4,330.8L433.4,330.8L433.4,330.8L433.4,330.7L433.4,330.7L433.4,330.7L433.4,330.6L433.4,330.6L433.4,330.6L433.4,330.6L433.5,330.5L433.5,330.5L433.5,330.5L433.5,330.5L433.6,330.4L433.6,330.4L433.6,330.4L433.7,330.4L433.7,330.4L436.5,330.3L436.6,330.3L441.3,330.3L441.5,327.5L441.5,327.4L441.5,327.4L441.5,327.4L441.6,327.3L442.7,325.0L442.7,325.0L443.8,323.0L442.4,318.5L441.5,317.2L441.5,317.2L441.5,317.2L441.5,317.2L441.4,317.1L441.4,317.1L441.4,317.1L441.4,317.0L441.4,317.0L441.4,317.0L441.5,316.9L441.5,316.9L441.5,316.9L441.5,316.8L441.5,316.8L441.6,316.8L441.6,316.8L441.6,316.7L441.6,316.7L441.7,316.7L441.7,316.7L446.1,315.7L446.1,315.7L446.1,315.6L446.2,315.6L446.2,315.7L448.5,316.0L448.5,316.1L448.6,316.1L448.6,316.1L448.6,316.1L448.7,316.1L451.4,318.3L454.4,318.8L457.2,316.6L457.3,316.6L457.3,316.6L457.3,316.6L457.4,316.6L457.4,316.6L457.4,316.6L457.5,316.6L457.5,316.6L457.5,316.6L460.1,317.3L460.1,317.3L460.1,317.3L460.2,317.3L460.2,317.3L460.2,317.4L460.3,317.4L460.3,317.4L460.3,317.4L460.3,317.5L460.3,317.5L460.3,317.5L460.3,317.6L460.3,317.6L460.3,317.6L460.3,317.7L460.3,317.7L460.3,317.7L460.3,317.8L460.3,317.8L458.3,320.8L458.3,330.1L459.5,332.0L461.6,328.9L464.9,325.1L468.0,322.7L470.2,321.2L473.8,316.8L476.0,313.6L478.0,307.6L480.1,303.5L480.7,300.7L481.0,297.1L478.1,298.0L475.6,298.5L471.2,299.0L469.7,300.0L466.7,300.7L464.4,300.7L462.6,298.1L462.4,297.7L462.9,296.8L462.2,294.9L460.5,293.6L458.8,291.7L456.6,289.6L454.8,288.9L453.4,287.3L452.8,284.9L451.2,281.0L448.3,278.9L447.8,276.9L447.6,273.2L446.8,270.6L443.7,268.0L444.0,265.6L443.3,265.4L442.0,263.0L440.2,259.9L438.9,257.0L437.1,254.4L435.9,252.3L435.3,251.0L435.5,249.9L437.2,252.6L438.2,254.2L439.8,255.6L440.2,254.9L440.5,252.3L440.7,251.8L440.6,251.4L440.6,251.4L440.7,250.7L440.7,250.7L441.2,247.1L441.2,247.1L441.4,245.8L441.2,243.5L441.2,243.5L441.2,243.4L441.2,243.4L441.2,243.4L441.2,243.3L441.5,242.4L441.5,242.4L441.6,242.4L441.6,242.3L441.6,242.3L441.6,242.3L441.7,242.3L441.7,242.2L441.7,242.2L441.7,242.2L441.8,242.2L441.8,242.2L441.9,242.2L441.9,242.2L441.9,242.2L442.0,242.2L442.0,242.2L442.0,242.2L444.3,243.3L448.2,240.6L448.2,240.6L452.5,238.0L452.7,237.2L452.4,233.1L452.4,233.0L452.4,233.0L452.4,233.0L452.4,232.9L452.4,232.9L452.4,232.9L452.4,232.8L452.5,232.8L452.5,232.8L453.8,231.6L451.9,231.6L449.9,232.3L449.9,232.3L449.8,232.3L449.8,232.3L447.0,232.6L447.0,232.6L443.4,232.7L443.3,232.7L443.3,232.7L443.3,232.7L443.2,232.7L443.2,232.7L442.9,232.5L442.9,233.4L442.9,233.5L442.8,233.5L442.8,233.5L442.8,233.6L442.8,233.6L442.8,233.6L442.1,234.7L442.1,234.8L442.0,234.8L442.0,234.8L442.0,234.8L442.0,234.8L441.9,234.9L441.9,234.9L441.9,234.9L441.8,234.9L441.8,234.9L441.8,234.9L441.7,234.9L441.7,234.9L441.7,234.9L441.6,234.9L441.2,234.6L441.0,235.4L441.5,236.9L441.5,238.1L441.0,239.5L440.5,241.2L440.2,242.4L439.9,244.4L439.0,246.1L438.9,246.3L437.6,246.9L434.7,246.5L433.5,245.8L431.5,245.9L429.4,246.6L427.4,247.5ZM462.5,357.7L462.6,358.8L463.0,359.1L463.2,358.0ZM467.2,361.3L466.6,361.0L466.6,361.7L466.9,361.9ZM464.5,394.8L468.9,393.4L470.6,388.8L472.6,383.6L474.0,380.2L475.7,375.2L475.8,373.7L477.0,369.7L478.6,368.7L478.2,364.5L476.4,359.2L475.2,360.6L473.2,363.2L472.9,364.5L471.2,366.9L469.1,369.0L466.7,369.7L464.6,370.3L463.4,373.4L464.3,377.6L463.7,381.0L462.2,383.6L461.0,385.9L461.7,389.1L462.2,393.2ZM635.4,225.7L634.8,224.2L636.0,223.7L637.9,221.6L636.6,219.0L637.4,218.0L637.4,218.0L637.4,218.0L637.2,217.7L635.3,216.6L634.7,218.1L634.7,218.1L634.6,218.2L634.6,218.2L634.6,218.2L634.6,218.2L634.5,218.3L634.5,218.3L634.5,218.3L634.5,218.3L632.9,218.8L632.9,218.8L630.9,219.4L630.3,221.4L630.2,221.5L630.2,221.5L630.2,221.5L630.2,221.6L628.0,224.1L629.9,225.0L631.4,227.0L630.8,228.6L631.7,229.1L634.3,229.5L635.7,230.3L636.5,232.5L637.6,235.4L638.6,238.2L641.9,237.2L643.9,236.4L643.8,234.1L642.3,231.5L640.6,229.6L638.0,227.3ZM653.6,239.2L652.2,241.0L653.5,241.9L655.1,242.6L655.3,240.6L657.1,241.2L657.6,239.7L655.9,238.4ZM485.7,258.9L487.7,258.1L489.1,257.2L490.5,257.6L491.0,260.2L492.9,261.1L495.7,261.7L499.3,262.0L501.6,262.2L503.2,262.4L505.8,262.1L508.5,262.2L512.0,261.5L513.1,263.2L514.7,264.6L515.2,265.6L516.5,266.1L516.6,266.0L516.6,266.0L516.6,266.0L516.6,266.0L517.8,264.4L517.8,264.4L517.8,264.3L517.8,264.3L517.9,264.3L517.9,264.3L517.9,264.3L517.9,264.3L518.0,264.2L518.0,264.2L518.1,264.2L518.1,264.2L520.1,264.5L522.5,264.1L521.5,261.1L519.9,259.1L518.4,257.8L518.4,257.8L518.3,257.8L518.3,257.7L518.3,257.7L518.3,257.7L518.3,257.6L518.3,257.6L518.3,257.6L518.3,257.5L518.3,257.5L518.3,257.5L518.3,257.4L518.3,257.4L518.3,257.4L518.3,257.4L520.1,254.7L520.2,254.7L520.2,254.7L520.2,254.7L520.2,254.6L520.3,254.6L520.3,254.6L520.3,254.6L520.4,254.6L520.4,254.6L520.4,254.6L523.3,254.7L523.7,253.8L523.7,253.7L525.7,249.8L525.7,249.8L525.7,249.8L525.7,249.7L525.7,249.7L526.6,249.0L527.6,246.8L527.2,244.8L527.2,244.8L527.2,244.8L527.2,244.7L527.2,244.7L527.2,244.7L527.2,244.6L527.2,244.6L527.2,244.6L527.3,244.5L527.3,244.5L527.3,244.5L527.3,244.5L528.4,243.7L527.0,242.7L525.3,241.7L525.2,241.7L525.2,241.6L525.2,241.6L525.2,241.6L525.1,241.6L525.1,241.5L525.1,241.5L524.0,238.6L524.0,238.6L524.0,238.6L524.0,238.5L524.0,238.5L524.0,238.5L524.0,238.4L524.1,237.4L524.2,237.4L524.2,237.3L524.2,237.3L524.2,237.3L524.2,237.2L524.2,237.2L524.3,237.2L524.3,237.2L524.3,237.2L524.3,237.1L524.4,237.1L524.4,237.1L524.4,237.1L524.5,237.1L524.5,237.1L526.7,237.2L528.8,237.1L530.4,236.7L530.4,236.4L530.4,236.3L530.4,236.3L530.4,236.3L530.4,236.2L530.5,236.2L530.5,236.2L530.5,236.2L530.5,236.1L531.4,235.5L528.4,234.8L528.4,234.8L528.3,234.8L528.3,234.8L528.3,234.7L528.3,234.7L528.2,234.7L528.2,234.7L528.2,234.6L527.1,232.8L525.9,232.2L525.9,232.1L524.5,231.2L524.5,231.2L524.5,231.2L524.5,231.2L524.4,231.1L524.4,231.1L524.4,231.1L524.4,231.0L524.4,231.0L524.4,231.0L524.3,229.2L523.4,227.9L521.6,227.9L521.6,227.9L521.6,227.9L521.5,227.9L521.5,227.9L521.5,227.9L521.4,227.9L521.4,227.8L521.4,227.8L521.4,227.8L521.3,227.8L521.3,227.7L520.2,225.5L517.0,225.7L516.9,225.7L516.9,225.7L516.9,225.7L513.5,225.1L511.0,225.1L511.0,225.1L510.9,225.1L510.9,225.0L510.9,225.0L510.8,225.0L510.8,225.0L510.8,225.0L510.8,225.0L510.7,224.9L510.7,224.9L510.7,224.9L510.7,224.8L510.7,224.8L510.7,224.8L510.7,224.7L510.7,224.7L510.7,224.7L510.7,224.6L510.9,223.3L510.9,223.3L511.0,223.3L511.0,223.2L511.0,223.2L511.0,223.2L511.0,223.2L511.1,223.1L511.1,223.1L511.1,223.1L511.1,223.1L511.2,223.1L511.2,223.1L511.2,223.1L512.8,222.9L512.4,221.8L510.8,222.2L510.2,223.3L510.2,223.3L510.2,223.4L510.2,223.4L510.2,223.4L510.1,223.4L510.1,223.5L510.1,223.5L510.0,223.5L509.4,223.7L508.6,225.1L508.6,225.2L508.6,225.2L508.6,225.2L508.5,225.2L508.5,225.3L508.5,225.3L508.4,225.3L508.4,225.3L508.4,225.3L507.8,225.4L508.6,226.3L508.6,226.3L510.1,228.1L510.1,228.1L510.2,228.2L510.2,228.2L510.2,228.2L510.2,228.3L510.2,228.3L510.2,228.3L510.2,228.4L510.2,228.4L509.8,231.0L509.8,231.0L509.8,231.1L509.8,231.1L509.8,231.1L509.7,231.2L509.7,231.2L509.7,231.2L509.7,231.2L509.6,231.2L509.6,231.3L509.6,231.3L509.5,231.3L509.5,231.3L509.5,231.3L509.4,231.3L509.4,231.3L506.5,230.9L506.5,230.9L506.4,230.9L506.4,230.9L506.4,230.9L506.3,230.8L506.3,230.8L506.3,230.8L506.3,230.8L506.3,230.7L506.2,230.7L506.2,230.7L506.2,230.6L506.2,230.6L506.0,229.1L503.7,228.4L503.7,228.4L503.6,228.4L500.4,226.7L500.4,226.7L496.1,224.0L496.1,223.9L496.0,223.9L496.0,223.9L496.0,223.9L494.0,221.1L490.2,220.4L490.1,220.4L490.1,220.4L490.1,220.4L490.0,220.3L490.0,220.3L490.0,220.3L490.0,220.3L489.9,220.2L489.9,220.2L489.9,220.2L489.2,218.2L486.2,217.1L485.3,217.5L484.1,220.4L484.1,220.5L484.1,220.5L484.0,220.5L484.0,220.6L484.0,220.6L484.0,220.6L483.9,220.6L483.9,220.6L483.9,220.6L483.8,220.6L483.8,220.7L483.8,220.7L479.5,220.7L479.5,220.7L479.5,220.7L479.4,220.6L479.4,220.6L479.4,220.6L479.4,220.6L479.3,220.6L479.3,220.6L476.7,218.0L475.0,218.5L474.3,219.4L474.2,219.4L474.2,219.4L475.2,220.8L476.1,223.7L478.0,225.7L478.9,228.9L479.5,230.6L479.9,231.7L475.7,232.5L473.5,232.0L471.0,230.4L468.8,229.9L468.2,228.1L468.2,228.1L468.2,228.1L468.2,228.1L468.1,228.1L468.1,228.1L468.1,228.1L468.0,228.1L466.7,227.6L466.7,227.6L466.6,227.6L466.6,227.6L466.6,227.6L466.6,227.6L466.5,227.5L466.5,227.5L466.5,227.5L465.5,225.7L465.5,225.6L465.5,225.6L465.5,225.6L465.5,225.5L465.5,225.5L465.5,225.4L465.5,225.4L465.5,225.4L465.5,225.3L465.5,225.3L465.5,225.3L465.6,225.3L465.6,225.2L465.6,225.2L465.6,225.2L465.6,225.2L465.3,225.0L464.0,226.0L463.1,226.8L463.0,226.9L463.0,226.9L463.0,226.9L462.9,226.9L462.9,226.9L462.9,226.9L462.8,226.9L462.1,227.0L462.0,227.0L462.0,226.9L460.5,226.7L460.4,226.7L460.4,226.6L460.4,226.6L460.3,226.6L460.3,226.6L460.3,226.6L459.1,225.5L459.1,225.5L459.1,225.4L458.8,225.0L458.4,225.5L458.3,225.5L458.3,225.5L458.3,225.5L458.3,225.5L458.2,225.6L458.2,225.6L458.2,225.6L457.9,225.6L458.7,227.7L458.7,227.7L458.7,227.8L458.7,227.8L458.7,227.8L458.7,229.0L459.7,230.2L459.7,230.2L460.2,230.9L460.2,230.9L462.0,233.8L463.5,234.5L463.6,234.6L463.6,234.6L463.6,234.6L463.6,234.6L463.7,234.6L463.7,234.7L463.7,234.7L463.7,234.7L463.7,234.8L463.7,234.8L463.7,234.8L463.7,234.9L463.7,234.9L463.3,237.8L463.1,239.3L464.8,241.1L467.7,243.2L467.8,243.2L467.8,243.2L467.8,243.2L467.8,243.3L467.8,243.3L467.9,243.3L469.3,247.0L469.9,248.3L471.2,249.6L471.8,248.9L473.3,249.7L474.3,249.2L476.4,252.5L478.2,255.3L480.8,256.5L483.0,258.3ZM650.4,246.3L651.7,247.1L652.8,246.1L652.8,242.4L651.2,240.2L649.2,239.5L648.4,240.3L646.8,241.0L648.1,242.9L649.6,244.2ZM554.8,255.3L554.7,255.2L552.7,253.9L549.8,252.7L549.8,252.6L547.2,251.1L547.2,251.1L544.7,249.3L542.9,249.5L541.8,251.9L541.7,252.6L544.2,253.8L547.8,255.4L550.8,256.0L550.9,256.0L550.9,256.1L550.9,256.1L554.1,257.9L557.3,258.6L560.0,258.7L559.5,257.1L559.5,257.1L559.5,257.1L559.3,255.5L557.1,255.3L554.9,255.3L554.9,255.3L554.9,255.3L554.8,255.3L554.8,255.3ZM562.1,256.8L562.3,257.5L564.1,258.0L566.7,257.7L566.7,257.7L568.7,257.6L568.3,255.7L567.1,255.3L564.9,255.0L564.8,255.0L563.4,254.8L562.2,256.4ZM478.6,263.5L478.6,263.5L478.6,263.5L478.6,263.5L479.2,262.8L478.9,260.4L478.1,259.8L477.5,260.4L477.3,261.7L477.4,262.7L477.7,263.1ZM636.8,265.4L637.1,262.8L635.9,262.0L634.9,262.8L634.4,263.8L633.7,266.7L634.5,269.0L636.2,270.9L636.8,267.7ZM608.1,302.4L609.2,301.0L611.3,299.6L613.7,297.7L614.0,295.1L613.2,292.1L611.9,288.1L610.0,286.0L607.2,283.6L605.2,281.0L603.4,279.2L603.4,278.4L604.8,275.3L604.8,274.0L606.2,273.2L607.2,272.0L604.8,270.9L604.7,270.9L604.7,270.9L604.7,270.9L604.6,270.8L604.6,270.8L604.6,270.8L603.4,268.5L601.0,267.8L599.7,268.6L599.7,268.6L597.8,269.4L597.8,269.4L597.7,269.4L597.7,269.4L597.7,269.4L597.6,269.4L594.6,269.1L594.1,269.7L593.8,272.7L593.8,272.8L593.8,272.8L593.8,272.8L593.8,272.8L593.8,272.9L593.8,272.9L593.7,272.9L593.7,273.0L593.7,273.0L593.7,273.0L593.6,273.0L593.6,273.0L593.6,273.0L593.5,273.0L593.5,273.0L592.3,273.0L591.4,274.9L591.4,274.9L591.4,275.0L591.4,275.0L591.3,275.0L591.3,275.0L591.3,275.1L591.3,275.1L591.2,275.1L591.2,275.1L591.2,275.1L591.1,275.1L590.6,275.2L591.4,276.5L592.9,276.8L592.9,276.8L592.9,276.8L593.0,276.8L593.0,276.8L593.0,276.8L593.1,276.9L593.1,276.9L593.1,276.9L593.1,277.0L593.1,277.0L593.1,277.0L593.2,277.1L593.2,277.1L593.5,281.0L593.5,281.0L593.5,281.1L593.5,281.6L595.1,281.0L595.2,281.0L595.2,281.0L595.2,280.9L596.5,280.8L598.0,279.7L598.1,279.7L598.1,279.7L598.1,279.7L598.2,279.6L598.2,279.6L598.2,279.6L598.3,279.6L598.3,279.6L599.7,279.9L599.7,279.9L599.8,279.9L599.8,279.9L599.8,280.0L599.8,280.0L599.9,280.0L599.9,280.0L601.8,282.1L601.8,282.1L601.8,282.2L601.9,282.2L601.9,282.2L601.9,282.3L602.5,285.0L604.3,286.8L604.3,286.8L604.3,286.8L604.3,286.9L604.3,286.9L604.3,286.9L604.4,287.0L604.4,287.0L604.6,289.1L604.6,289.1L604.6,289.2L604.6,289.2L604.6,289.2L604.1,290.8L604.1,290.8L604.1,290.9L604.1,290.9L604.0,290.9L604.0,290.9L604.0,291.0L604.0,291.0L603.9,291.0L603.9,291.0L603.9,291.0L603.8,291.0L603.8,291.0L603.8,291.0L601.0,290.9L599.0,291.3L598.2,292.6L598.1,294.3L599.5,297.5L599.6,297.5L599.6,297.5L599.6,297.6L599.6,297.6L599.6,297.6L599.6,297.7L599.6,297.7L599.6,297.7L599.5,297.8L599.5,297.8L599.5,297.8L599.5,297.8L599.5,297.9L599.4,297.9L599.4,297.9L599.4,297.9L599.8,298.8L600.8,300.3L603.1,300.9L604.6,301.9L604.2,303.2L604.1,305.6L605.8,305.0ZM551.4,311.0L551.8,309.0L550.1,305.7L549.3,304.5L547.1,302.4L547.0,304.5L546.8,307.1L547.1,310.0L548.0,312.3L548.9,312.5ZM628.7,315.1L628.2,314.8L627.1,315.5L626.5,315.8L627.6,317.0L628.2,316.3L628.7,315.1ZM658.7,324.6L658.2,322.5L657.1,325.4L657.6,328.8L658.5,329.8L658.3,327.0L660.4,327.2L659.2,325.9L660.1,324.1ZM637.7,325.4L635.2,322.8L634.4,318.9L634.1,317.4L634.1,317.4L634.1,317.4L634.0,317.4L630.8,317.1L630.1,319.2L630.1,319.3L630.1,319.3L630.1,319.3L629.0,320.8L628.2,324.2L628.2,324.2L628.2,324.2L628.1,324.3L628.1,324.3L628.1,324.3L628.1,324.3L628.0,324.4L628.0,324.4L628.0,324.4L628.0,324.4L627.9,324.4L625.6,324.9L625.6,325.0L625.6,325.0L625.5,325.0L625.5,325.0L622.2,324.5L621.5,325.6L621.4,325.6L621.4,325.6L621.4,325.7L621.4,325.7L621.3,325.7L621.3,325.7L621.3,325.7L621.3,325.7L621.2,325.7L618.2,326.1L618.2,326.1L618.2,326.1L618.1,326.1L618.1,326.1L618.1,326.1L618.0,326.1L618.0,326.1L618.0,326.1L617.9,326.0L616.0,324.1L614.6,325.7L615.2,328.0L615.9,330.6L617.0,331.9L617.4,335.6L620.8,337.1L623.8,336.3L627.2,337.1L627.6,338.8L630.7,337.4L631.5,334.5L632.0,331.9L632.7,331.4L634.3,329.6L635.2,325.7ZM604.3,332.7L602.1,330.6L602.8,328.0L601.8,326.7L599.1,325.4L597.2,323.4L593.9,321.0L590.8,318.2L587.9,314.3L582.8,313.4L584.8,317.2L587.4,319.4L588.4,321.5L591.2,323.6L591.9,327.2L594.8,330.5L596.2,334.5L599.0,337.9L602.6,341.3L604.1,343.3L606.9,343.1L607.2,339.5L607.7,335.8L605.2,334.0ZM645.7,340.8L646.5,339.5L645.2,336.6L644.2,333.0L646.5,331.9L647.9,330.3L643.8,330.3L641.8,331.7L640.3,330.3L640.8,326.7L643.6,326.7L647.0,326.7L650.2,327.0L652.0,323.8L650.0,324.9L647.0,325.5L644.7,325.4L641.9,324.6L639.6,325.9L639.6,328.3L638.5,331.1L638.4,333.0L637.2,335.0L637.2,336.1L638.7,338.4L638.5,342.4L640.6,342.6L640.7,340.5L640.6,335.8L642.0,334.9L642.1,338.2L643.2,340.0L644.3,340.5ZM606.8,334.3L608.1,336.0L609.3,334.8L607.6,331.9L605.8,333.0ZM653.7,336.3L653.9,337.4L655.5,338.0L656.5,336.9L655.1,336.0ZM607.4,343.5L605.4,345.7L608.1,347.2L611.0,348.1L614.0,348.1L617.8,349.4L622.4,349.9L626.7,350.8L626.3,349.4L626.7,348.2L622.6,346.8L618.6,344.7L617.4,346.1L613.2,345.6L612.6,344.4L609.2,343.9ZM626.6,349.1L628.1,351.1L629.3,349.9L628.2,349.0ZM638.7,351.0L640.2,351.1L643.7,351.0L646.1,349.9L645.7,349.1L641.5,349.8L638.7,350.0ZM634.5,351.1L636.8,350.8L637.1,349.7L635.3,349.8L633.9,349.3L631.8,350.2L631.9,351.5ZM629.6,351.0L631.0,351.2L631.6,349.8L630.2,349.7ZM648.2,352.4L646.8,355.0L647.9,354.9L650.4,353.3L654.0,351.5L655.9,349.9L654.3,349.9L650.6,350.6ZM636.6,353.4L638.8,354.9L640.7,354.1L639.0,352.4L636.7,352.5ZM488.4,382.5L488.6,383.7L489.6,383.3L489.4,382.5ZM658.5,215.4L656.3,215.0L657.2,216.7L656.6,217.2L657.3,218.5L658.9,220.0L660.6,219.0L657.8,217.2L659.4,217.7L660.3,216.9L664.7,218.6L665.4,216.0L667.6,215.0L664.9,212.6L663.4,213.3L659.6,211.8L655.9,209.5L655.8,210.3L657.6,212.6L657.9,213.5ZM666.6,235.6L667.5,236.9L668.7,234.9L667.4,233.3L667.3,231.5L665.6,228.3L666.6,228.1L665.6,224.6L663.3,222.4L661.7,220.0L660.7,219.8L659.7,220.4L659.8,222.1L661.1,223.9L662.0,226.8L661.7,229.0L661.1,230.9L658.9,232.0L658.8,230.2L657.6,230.7L658.1,231.6L657.4,233.3L658.3,235.0L656.6,234.9L654.4,235.2L652.5,235.2L651.1,235.5L649.7,238.2L649.1,239.4L651.1,239.4L652.1,238.4L653.3,238.5L655.1,237.7L657.9,237.6L658.1,238.8L660.3,240.7L661.0,239.5L661.9,238.6L661.7,237.7L664.3,237.7L664.4,236.7L665.7,237.7L665.7,236.2ZM664.7,337.9L664.8,336.1L660.7,335.3L658.1,336.1L658.5,337.1L661.8,336.9ZM715.0,340.0L715.8,339.7L713.6,336.6L710.9,334.8L710.7,335.3L712.5,336.6ZM711.8,340.9L708.5,342.4L705.0,342.9L704.9,343.4L707.6,344.4L710.4,343.9L712.1,342.6L714.3,340.8L714.0,339.0ZM682.6,349.9L685.0,349.1L687.2,351.9L690.6,352.3L692.8,351.5L692.7,349.7L694.4,348.4L696.1,348.0L699.0,349.1L701.4,352.8L703.0,354.5L707.5,355.8L709.5,354.9L708.3,354.9L706.3,351.7L704.7,351.5L703.2,348.6L701.6,345.6L703.4,345.5L703.5,344.4L701.7,343.4L699.1,341.6L697.3,339.5L694.2,337.3L691.7,336.3L688.4,334.8L687.7,334.5L683.8,333.2L680.4,332.2L678.0,333.7L675.6,336.9L673.3,335.8L673.0,333.2L672.6,330.2L668.9,329.0L665.4,330.2L665.2,331.7L667.5,332.2L667.4,335.3L667.7,333.7L671.1,334.3L671.3,334.8L669.4,336.6L669.3,338.4L671.0,337.7L673.2,338.4L676.4,339.7L678.9,340.8L681.1,342.6L682.4,346.3L679.6,349.9ZM719.3,342.1L719.4,343.1L720.5,345.0L722.0,345.7L721.2,344.2ZM723.4,345.5L723.4,346.3L725.1,347.4L725.6,347.0ZM730.8,350.2L727.8,347.8L727.7,348.6L730.3,350.4ZM724.7,349.1L725.5,350.7L726.2,350.2ZM732.4,349.9L732.1,350.7L733.1,352.8L733.8,352.3ZM729.9,352.3L730.0,353.4L732.2,354.0L732.6,353.0ZM735.6,355.9L733.5,354.9L733.4,355.5L734.7,356.3ZM743.8,366.4L743.6,368.4L744.5,368.7L745.0,367.1ZM744.9,371.3L745.6,370.8L744.5,369.7ZM746.5,374.2L745.8,373.9L745.9,374.6ZM740.1,386.2L737.5,382.8L734.7,380.4L734.5,381.5L736.1,384.1L738.9,386.4ZM672.6,359.8L669.3,358.8L667.4,357.2L667.1,359.6L664.6,359.8L663.0,360.5L661.4,361.7L659.3,363.2L659.6,364.5L657.9,366.9L655.9,367.9L656.1,366.6L653.7,363.9L651.4,364.8L648.7,367.7L645.9,370.5L644.6,373.1L643.4,370.8L641.5,372.4L641.1,375.0L639.0,377.6L635.2,379.9L631.9,381.0L629.9,381.8L627.4,382.0L624.3,384.1L621.1,386.7L622.1,385.0L621.1,384.9L620.0,387.0L618.1,391.9L618.7,394.5L618.8,396.6L617.5,397.4L616.6,396.2L617.8,399.8L618.0,403.1L618.0,407.6L617.9,411.5L616.6,414.9L614.8,415.5L614.4,417.6L615.8,418.8L619.6,419.5L625.3,416.6L629.5,416.5L633.0,416.5L635.1,414.1L640.1,412.3L642.3,412.3L647.3,410.7L652.2,410.2L653.6,411.5L657.0,411.8L657.4,414.1L657.9,418.0L658.9,419.1L659.6,418.0L663.2,415.9L665.8,412.8L663.5,416.7L660.6,420.1L662.0,419.8L664.7,417.0L664.6,419.1L662.8,421.0L663.9,420.9L665.5,421.7L664.6,424.3L665.1,427.1L666.8,427.9L667.6,428.0L670.1,429.3L671.6,428.4L674.5,426.7L674.4,428.2L675.9,430.0L678.2,428.2L681.1,426.9L685.9,425.8L686.7,424.5L688.5,421.9L692.1,418.0L693.8,416.3L696.1,413.8L698.5,412.0L702.0,407.1L704.8,402.6L705.1,399.5L706.1,395.8L706.9,393.2L704.8,391.1L702.9,388.8L702.8,386.4L700.6,383.1L698.6,380.1L696.3,378.2L695.3,377.3L695.3,372.1L695.1,367.0L691.9,365.6L691.9,360.6L690.2,355.9L689.5,356.6L688.5,359.3L687.4,361.9L686.8,365.8L685.7,369.7L683.7,373.5L680.9,373.7L679.8,372.1L676.7,370.3L673.6,368.4L672.5,366.9L674.0,364.5L675.6,362.7L677.0,360.1L676.1,359.1ZM744.0,429.0L747.0,426.4L743.3,426.9L741.8,425.6L742.2,423.2L740.5,424.0L741.8,420.1L739.8,419.1L739.7,417.8L739.6,419.1L739.8,419.8L740.2,423.0L739.4,425.3L738.0,427.1L736.6,429.2L733.9,430.5L734.9,431.9L735.3,432.8L734.3,433.9L732.1,435.7L732.8,436.5L735.0,435.4L739.5,432.3L740.2,431.0ZM675.2,437.5L677.1,434.7L676.6,434.4L671.9,435.2L669.8,434.1L669.0,435.4L667.9,439.1L667.8,441.4L669.3,441.6L672.3,440.6ZM723.8,441.1L727.8,438.5L730.4,436.9L731.9,434.9L728.7,435.4L729.4,433.6L727.6,434.4L725.6,436.2L722.5,438.5L718.4,440.6L713.4,442.7L711.6,443.7L708.3,445.2L705.6,447.5L707.0,448.3L708.0,449.3L710.5,449.3L714.2,447.5L715.7,446.3L718.5,443.7L723.6,442.1ZM705.9,449.8L704.9,450.9L705.9,450.9L707.0,450.1Z"/>
<path class="bd" d="M441.9,241.9L441.9,240.8L443.3,238.8L442.7,237.7L441.8,237.6M440.7,241.5L441.9,241.1M479.8,230.5L481.3,230.3L482.5,228.6L486.0,228.2L489.0,229.8L491.0,230.2L493.8,232.4L495.5,232.4L496.2,235.1M496.2,235.1L496.3,237.7L495.4,239.0L495.7,240.3L496.6,240.6L496.3,242.2L497.5,245.8L499.4,246.1L499.9,247.1L498.3,250.1M498.3,250.1L500.8,253.2L503.2,254.3L503.6,257.0L504.7,257.2L504.7,258.6L502.8,259.1L501.8,259.6L501.6,261.9M496.2,235.1L498.7,236.0L500.1,234.5L502.9,233.3L504.6,230.3L505.9,230.5M498.3,250.1L502.1,251.3L505.6,251.3L510.3,250.1L509.9,247.2L512.8,246.1L515.9,244.8L515.2,241.6L517.3,241.0L516.0,239.3L518.4,238.4L519.0,236.2L518.4,234.1L521.9,231.7L524.1,231.1M510.1,230.9L511.8,230.7L512.9,231.1L514.3,229.9L514.1,228.3L516.2,228.1L516.7,229.1L518.0,232.2L520.1,231.5L522.2,230.4L524.1,230.8M594.4,270.1L595.8,271.4L596.3,273.2L598.6,273.5L600.1,274.8L599.1,276.6L601.3,277.6L602.2,279.2L603.4,281.3L606.1,283.9L608.2,286.3L609.0,288.6L608.9,289.6M608.9,289.6L606.7,290.2L605.7,291.6L604.4,291.0M608.9,289.6L609.2,292.3L609.8,295.4L607.2,297.5L606.5,299.3L606.1,299.6L604.4,299.4L603.3,300.6M634.8,229.5L635.5,229.4L635.5,228.1L637.6,227.4M650.5,351.0L650.7,352.5L650.5,352.9M435.1,396.4L435.1,397.3M358.9,236.7L359.6,238.0L359.8,240.1L360.8,244.2L357.1,244.2L355.6,245.3L355.4,247.9L352.0,250.0L348.7,250.9L344.2,253.1L344.2,256.8M334.8,255.8L344.2,255.8M344.2,256.8L344.1,260.2L336.7,260.2L336.5,266.8L334.2,268.0L334.1,272.3L325.5,272.3M344.2,256.8L352.7,262.8L366.1,272.9L367.6,275.0L370.7,276.3L371.0,278.2L373.1,278.0L376.6,277.3L380.5,273.6L390.4,266.6L386.0,264.1L384.5,259.6L385.6,258.9L385.4,253.4L384.6,249.1L383.4,244.2L381.7,243.2L380.0,239.5L381.5,237.6L381.6,235.9L382.0,231.9M384.6,249.1L386.2,247.4L386.2,245.3L388.7,243.5L388.8,241.8M418.8,245.7L418.1,249.2L418.9,251.7L419.9,270.6L420.1,275.8L417.8,275.8L417.9,277.1L406.4,271.1L399.5,266.8L397.3,268.0L395.5,269.0L390.4,266.6M419.9,270.6L446.3,270.6M352.7,262.8L348.9,262.8L350.5,287.6L342.3,287.6L339.1,287.8L337.3,287.3L335.7,289.4L334.1,287.6L332.3,285.7L329.5,284.6L327.1,284.9L326.3,285.7M335.7,289.4L336.1,292.3L337.4,294.3L337.4,295.6L334.9,295.6L332.1,294.9L329.2,294.9L325.7,295.7M325.4,292.5L329.2,292.0L331.9,292.8L331.9,293.3L329.2,293.6L325.4,293.8M332.1,294.9L332.1,297.5L329.8,298.0L329.3,299.0M333.2,304.2L334.8,302.2L337.8,301.9L339.2,304.3L339.8,306.1L339.1,307.6L337.3,309.8M339.8,306.1L341.7,306.2L341.9,308.7L344.0,308.3L344.2,311.0L346.4,312.7L346.1,316.3M344.0,308.3L344.7,305.8L345.8,306.1L345.1,301.4L344.3,298.5L342.2,295.9L339.5,296.7L337.4,295.6M345.1,301.4L349.3,300.3L350.9,300.9L352.7,302.7L357.3,303.2L357.8,306.6L356.0,310.8L356.8,313.4L356.5,314.4M357.3,303.2L356.9,299.3L363.2,299.0L364.3,301.4L364.9,306.3L364.6,308.4L365.1,310.3L366.1,311.8M363.2,299.0L365.6,299.3L366.7,303.2L367.2,307.1L367.2,310.0L367.2,311.5M365.6,299.3L366.7,298.1L369.0,296.9L370.0,295.6L371.7,297.5L372.2,300.3L371.8,301.9L369.8,304.5L369.9,307.1L369.7,311.1M350.9,300.9L351.6,296.9L353.4,294.9L353.7,293.6L355.6,293.6L356.2,292.3L358.9,290.9L361.8,288.6L364.0,288.9L364.4,291.5L365.8,293.3L368.5,295.1L370.0,295.6M364.0,288.9L366.7,288.1L371.5,287.8L373.1,285.2L373.1,278.0M371.7,297.5L372.0,295.4L372.6,292.8L376.1,291.7L379.1,293.8L381.3,293.3L384.1,294.5L386.4,293.3L391.6,293.8L394.6,292.3L394.6,290.2L398.8,283.9L399.5,274.8L397.3,268.0M394.6,292.3L395.8,294.1L397.0,298.0L395.1,299.3L393.8,303.0L393.1,305.0L391.1,308.4L390.6,309.7L389.0,311.0L387.6,309.7L384.7,312.9L384.0,312.9L383.2,315.3M395.8,294.1L397.6,295.6L398.0,299.8L399.1,301.9L395.5,302.8L398.0,305.3L399.1,308.4L396.9,312.6L397.1,315.0L398.5,317.8L400.8,322.3L398.1,322.9L394.1,322.3L389.7,322.3L386.4,321.9M389.7,322.3L389.7,325.4L385.9,325.4M394.1,322.3L394.2,324.6L396.5,324.6L395.8,328.0L396.9,329.6L396.7,333.2L393.5,334.3L392.3,333.2L390.9,334.3L390.5,336.3L389.2,338.1M400.8,322.3L401.7,318.9L406.5,318.9L405.2,322.0L404.5,327.2L404.3,329.3L400.8,333.5L400.1,338.2L398.7,339.2L396.6,340.8L394.3,340.8L393.7,340.1L391.4,340.9M393.7,340.1L392.3,342.9L391.9,342.9M392.0,343.7L393.9,343.3L401.7,343.4L402.4,346.8L408.1,346.3L408.0,348.9L413.6,347.0L413.7,352.8L414.4,357.2L418.5,356.4L418.4,361.9L413.8,361.9L413.6,370.3L416.7,373.9M390.6,373.0L394.2,372.4L395.8,373.4L405.6,373.4L411.2,374.8L416.7,373.9L420.1,373.8L420.9,374.4M411.2,374.8L410.9,385.4L408.6,385.4L408.4,391.9M411.2,375.7L416.7,375.0L419.2,373.7M429.3,385.4L426.2,381.5L422.9,378.1L420.9,374.4L424.8,374.8L426.8,372.1L429.4,369.7L432.8,368.8M434.5,386.0L436.9,383.6L438.2,379.7L438.2,376.3L438.5,373.4L438.2,371.6L434.8,369.7L432.8,368.8L432.4,366.6L439.4,364.5M439.4,364.5L438.3,363.5L439.0,360.9L439.8,358.3L439.8,356.2L439.3,353.2M443.3,358.8L442.7,359.8L442.4,363.2L445.4,366.9L445.1,369.7L443.8,372.6L443.0,370.3L441.7,367.1L442.3,365.8L439.4,364.5M418.5,356.4L419.6,357.5L421.5,357.2L423.0,359.1L425.8,358.3L427.6,360.4L429.8,363.0L431.6,363.0L431.7,359.7L429.9,360.4L428.4,359.1L429.1,354.6L429.3,353.0L429.9,350.2L433.6,349.6M431.1,339.0L430.8,337.1L430.3,335.0L432.4,335.0L433.3,334.6M430.3,335.0L431.0,332.2L431.7,331.6L433.1,331.0M431.7,331.6L431.7,329.3L432.6,324.9L435.6,322.3L434.4,321.7L434.6,318.9L437.2,318.6L439.5,317.8L441.2,317.3M460.5,317.3L462.5,316.0L466.9,315.2L473.8,307.1L464.5,304.6L462.2,303.0L461.5,300.1L462.1,298.8L462.4,298.3M462.4,298.3L461.6,299.4L459.3,299.3L459.2,298.0L460.5,295.5L461.9,295.0M460.5,295.5L457.7,292.5L454.8,290.3L452.5,289.9L450.0,289.1L449.4,290.9L446.8,290.8L446.7,288.3L447.5,285.5L447.7,283.4L450.9,281.2M446.8,290.8L446.1,294.9L443.9,297.2L443.6,299.6L441.8,303.2L442.3,306.1L439.3,307.4L441.7,309.7L444.7,313.9L445.8,315.4M441.8,303.2L441.3,301.4L439.6,300.0L439.1,296.2L438.4,296.7L437.5,297.5L435.1,302.4L432.3,301.1L430.1,303.0L427.8,303.7L424.3,303.1L420.8,301.1L418.6,305.3L417.5,304.5L417.6,301.9L416.0,299.4L414.3,294.9L413.4,294.6L414.9,291.2L414.9,289.1L415.7,287.0L418.0,287.0L417.9,277.1M416.0,299.4L413.3,300.3L410.3,304.3L406.9,305.0L404.2,307.3L401.9,308.2L399.1,308.4M418.6,305.3L421.4,307.6L424.2,310.8L426.7,314.8L421.7,315.0L419.7,314.7L416.2,315.7L415.1,317.3L410.7,316.4L408.4,314.7L406.3,316.8L406.5,318.9M426.7,314.8L428.9,316.8L431.9,316.0L434.6,318.9M128.7,151.5L104.7,172.7L107.6,173.4L108.0,175.8L113.6,173.9L114.1,177.3L113.3,181.6L115.4,183.1L112.6,185.4M116.4,200.6L171.8,200.6L173.0,199.7L172.6,201.3L176.4,202.1L182.0,203.1L184.6,202.3L190.1,205.9L190.5,207.1L191.9,208.5L193.4,210.0L191.3,215.9L188.9,218.2L189.4,219.3L198.2,216.4L198.6,214.9L203.5,214.4L205.1,212.8L209.2,210.8L215.8,210.8L219.1,208.5L220.4,206.4L222.7,204.5L224.4,204.8L225.2,205.5L224.0,209.0L224.4,210.0L224.8,211.0M145.8,260.2L142.0,259.1L141.7,256.2L140.1,252.1L138.9,250.4L136.0,250.5L134.5,252.4L132.0,250.6L129.2,245.2L125.5,245.1L125.1,246.3L118.8,246.3L112.0,242.6L106.9,243.1M161.3,281.0L162.8,279.9M163.9,294.0L165.3,292.1L167.0,291.5L169.4,289.9L170.6,289.6L173.3,288.9M167.4,299.2L169.3,299.3L171.4,299.5M173.9,303.3L173.1,304.5L173.0,306.6M201.0,276.6L200.8,278.9L200.6,280.6M198.5,298.2L197.3,299.0L196.0,302.4L197.2,306.1L196.8,308.7L198.2,309.7L202.3,309.7L203.8,312.1L208.2,311.8L207.3,316.3L208.5,319.1L207.2,320.7L208.7,322.0L209.4,324.9M209.4,324.9L208.9,323.6L202.5,323.6L202.5,325.1L204.0,325.4L203.3,326.4L202.0,326.6L202.0,328.5L203.1,329.3L203.5,330.9L202.5,338.3M209.4,324.9L212.5,326.0L215.8,324.1L217.4,322.3L215.6,321.5L216.1,317.8L214.7,317.3L218.9,318.3L219.1,317.6L223.1,316.3L223.7,314.4M223.7,314.4L222.2,312.5L223.0,310.5L224.8,309.7L224.0,308.4L225.9,306.6M223.7,314.4L225.4,315.0L225.1,316.3L226.2,317.8L225.5,321.7L225.9,323.2L228.0,324.9L231.5,322.9L232.6,322.9M204.8,356.6L206.5,356.7L210.7,353.8L213.7,353.6L213.9,358.5L216.1,360.4L219.8,361.9L222.2,363.2L225.2,364.0L225.9,367.1L226.4,370.5L230.5,370.5L230.9,373.1L232.9,375.5L232.4,377.7L231.9,380.6M231.9,380.6L229.5,378.4L223.6,379.3L222.7,381.5L222.3,385.4M205.9,374.5L207.1,377.6L208.4,378.6L208.0,381.2L209.4,383.6L210.4,386.2L210.7,387.6L211.5,387.6M231.9,380.6L232.7,382.1L232.8,385.7L237.9,386.2L239.0,390.5L241.5,390.8L241.3,394.1M236.8,407.0L240.8,408.5L244.8,411.2L247.1,413.3L246.9,415.3M688.3,335.1L687.3,351.4"/>
<path class="c" fill="#fdd49e" d="M344.9,218.8L346.3,218.1L346.6,219.0L348.4,218.8L349.8,218.6L350.4,219.5L348.9,221.1L349.1,222.9L348.6,224.4L347.5,224.6L348.6,226.0L347.9,227.8L348.5,228.3L347.4,230.2L347.6,230.9L346.5,231.5L344.2,231.5L344.6,228.9L343.8,227.8L343.2,226.8L343.6,225.2L344.6,223.2L345.2,220.7Z"/>
<path class="c" fill="#fdd49e" d="M346.3,218.1L346.6,219.0L348.4,218.8L349.8,218.6L350.4,219.5L348.9,221.1L349.1,222.9L348.6,224.4L347.5,224.6L348.6,226.0L347.9,227.8L348.5,228.3L347.4,230.2L347.6,230.9L348.5,230.9L349.7,231.7L349.9,232.6L351.4,234.1L351.9,233.7L354.0,232.2L357.0,232.1L358.8,232.1L360.1,230.7L362.0,229.9L362.4,228.1L363.9,226.9L362.9,225.2L363.5,223.9L365.2,221.9L365.4,221.1L368.1,220.0L370.2,218.8L370.1,217.4L367.7,217.5L366.5,217.1L365.0,216.6L362.0,216.3L360.6,215.7L359.7,215.0L357.2,215.0L355.6,214.6L354.1,214.9L351.4,214.2L348.9,214.5L347.5,214.0L346.2,214.6L344.3,215.4L344.1,216.2L344.8,217.5L344.9,218.8ZM370.0,225.5L370.8,224.4L370.1,223.8L368.4,224.8Z"/>
<path class="c" fill="#fdbb84" d="M360.6,215.7L362.0,216.3L365.0,216.6L366.5,217.1L367.7,217.5L370.1,217.4L369.9,217.1L370.0,215.7L371.2,214.9L372.3,214.6L373.1,214.9L373.9,215.0L374.7,215.1L375.8,215.8L377.3,215.4L378.1,214.6L379.1,213.9L379.5,213.0L377.8,212.4L378.0,211.5L377.2,210.5L378.1,209.7L377.5,208.7L378.0,208.4L377.6,208.5L377.4,207.2L375.8,207.7L376.0,206.7L377.6,204.9L379.0,204.1L378.9,203.1L379.3,201.8L380.0,200.6L378.4,200.2L376.3,199.4L375.2,199.2L373.2,198.5L373.2,197.7L371.8,198.1L369.9,196.3L368.6,195.3L366.7,195.9L366.7,197.3L365.7,198.2L363.9,198.8L363.7,199.4L361.3,199.7L360.9,198.8L359.7,198.8L360.3,200.1L360.7,201.5L359.5,201.5L358.0,201.7L356.4,201.1L354.4,201.5L353.9,202.2L354.7,203.6L356.6,203.9L357.8,204.4L359.1,205.0L359.8,206.9L361.1,207.8L361.2,209.4L361.0,211.8L360.5,214.4L359.7,215.0ZM381.6,218.2L381.8,219.3L382.9,220.0L383.6,218.2L383.0,215.9L381.5,217.5Z"/>
<path class="c" fill="#fdbb84" d="M368.6,195.3L370.2,194.6L371.9,194.6L373.4,194.4L375.1,195.1L374.8,196.2L375.5,196.2L376.3,197.3L375.8,197.7L375.0,198.4L375.2,199.2L373.2,198.5L373.2,197.7L371.8,198.1L369.9,196.3Z"/>
<path class="c" fill="#ef6548" d="M375.8,197.7L376.5,198.5L376.3,199.4L375.2,199.2L375.0,198.4Z"/>
<path class="c" fill="#fdbb84" d="M370.2,194.6L370.4,194.1L371.4,193.1L372.3,192.0L372.8,190.6L374.1,190.3L375.0,189.5L376.9,189.4L377.6,189.9L377.3,191.5L376.7,191.8L377.4,192.4L376.7,193.3L375.3,193.5L375.8,194.5L375.4,195.5L375.5,196.2L374.8,196.2L375.1,195.1L373.4,194.4L371.9,194.6Z"/>
<path class="c" fill="#fdbb84" d="M377.6,189.9L377.3,188.9L379.1,188.8L380.1,189.2L380.4,188.3L381.0,188.3L380.7,187.7L380.1,187.2L380.7,186.8L380.2,185.8L381.7,186.1L382.8,186.8L383.2,187.0L384.8,187.0L384.7,188.0L385.8,188.0L386.9,187.5L387.7,186.8L389.4,186.4L390.3,187.8L391.1,188.2L391.6,189.8L391.2,190.9L392.2,191.8L392.6,192.9L392.3,193.8L393.3,195.3L393.0,195.9L391.9,195.4L390.4,196.3L388.4,197.0L387.7,197.3L388.5,198.4L389.6,199.8L391.4,201.2L390.7,201.7L389.8,202.5L389.9,203.5L389.9,204.4L389.3,204.0L388.3,204.1L385.9,204.6L384.8,204.3L384.3,204.9L382.9,204.3L381.8,203.9L381.0,203.6L380.2,204.1L379.0,204.1L378.9,203.1L379.3,201.8L380.0,200.6L378.4,200.2L376.3,199.4L376.5,198.5L375.8,197.7L376.3,197.3L375.5,196.2L375.4,195.5L375.8,194.5L375.3,193.5L376.7,193.3L377.4,192.4L376.7,191.8L377.3,191.5Z"/>
<path class="c" fill="#fdbb84" d="M382.6,183.8L383.0,182.9L384.2,182.0L383.1,181.6L383.3,180.2L383.4,178.8L382.1,179.2L379.8,180.4L379.0,181.6L379.0,183.1L379.4,184.3L380.2,185.8L381.7,186.1L382.1,185.1L382.3,184.6L382.7,185.3L383.7,185.4L384.2,184.8L383.4,184.1L382.3,184.6ZM386.6,185.7L386.9,185.1L387.6,184.1L387.5,183.0L385.8,183.2L384.7,183.8L385.0,185.1Z"/>
<path class="c" fill="#fdbb84" d="M391.4,201.2L393.2,201.6L393.7,200.6L396.0,201.2L397.7,201.5L398.1,202.7L398.3,203.1L398.2,203.9L397.2,203.7L397.1,204.6L397.1,205.7L396.4,206.0L395.5,206.4L394.2,206.7L393.3,207.2L391.6,206.9L388.9,206.4L388.3,205.5L386.4,205.8L386.0,206.2L384.9,206.0L384.1,206.0L383.1,205.5L382.9,204.3L384.3,204.9L384.8,204.3L385.9,204.6L388.3,204.1L389.3,204.0L389.9,204.4L389.9,203.5L389.8,202.5L390.7,201.7Z"/>
<path class="c" fill="#fdbb84" d="M393.0,195.9L393.3,195.5L395.0,196.3L396.0,196.4L395.8,197.0L397.2,196.9L396.9,197.8L398.6,197.4L398.9,197.9L400.6,198.3L401.3,199.3L399.9,200.3L399.0,200.9L398.2,200.9L397.7,201.5L396.0,201.2L393.7,200.6L393.2,201.6L391.4,201.2L389.6,199.8L388.5,198.4L387.7,197.3L388.4,197.0L390.4,196.3L391.9,195.4Z"/>
<path class="c" fill="#fdd49e" d="M391.1,188.2L391.8,188.0L393.5,187.7L395.4,186.7L397.3,186.2L398.8,186.0L399.8,186.6L399.5,187.0L401.0,187.2L401.8,187.0L404.1,187.2L407.6,187.1L409.1,188.2L410.3,190.5L410.4,191.3L409.1,192.3L410.1,192.8L410.2,194.3L411.5,196.5L409.2,198.5L409.1,199.2L408.9,200.4L406.7,199.6L403.9,200.1L402.6,199.1L401.3,199.3L400.6,198.3L398.9,197.9L398.6,197.4L396.9,197.8L397.2,196.9L395.8,197.0L396.0,196.4L395.0,196.3L393.3,195.5L393.0,195.9L393.3,195.3L392.3,193.8L392.6,192.9L392.2,191.8L391.2,190.9L391.6,189.8Z"/>
<path class="c" fill="#fdd49e" d="M397.7,201.5L398.2,200.9L399.0,200.9L399.9,200.3L401.3,199.3L402.6,199.1L403.9,200.1L406.7,199.6L408.9,200.4L408.3,202.1L407.4,202.2L404.6,202.5L403.2,202.6L401.7,203.5L399.7,203.7L398.3,203.1L398.1,202.7Z"/>
<path class="c" fill="#fdd49e" d="M398.3,203.1L399.7,203.7L401.7,203.5L403.2,202.6L404.6,202.5L407.4,202.2L408.3,202.1L409.9,203.2L408.3,204.4L407.6,205.7L406.9,207.4L405.1,207.9L403.5,207.8L402.3,208.4L400.1,208.7L398.4,208.0L397.4,207.0L396.8,206.0L396.4,206.0L397.1,205.7L397.1,204.6L397.2,203.7L398.2,203.9Z"/>
<path class="c" fill="#fdbb84" d="M391.6,206.9L393.3,207.2L394.2,206.7L395.5,206.4L396.4,206.0L396.8,206.0L397.4,207.0L395.6,207.7L395.6,208.7L395.0,209.5L393.5,209.1L391.5,209.5L391.7,209.2L391.4,208.3L391.0,207.4Z"/>
<path class="c" fill="#fdd49e" d="M396.1,211.3L396.0,210.3L397.2,210.8L398.6,210.3L400.7,210.5L402.8,211.1L403.5,210.3L402.6,209.5L402.3,208.4L400.1,208.7L398.4,208.0L397.4,207.0L395.6,207.7L395.6,208.7L395.0,209.5L393.5,209.1L391.5,209.5L391.4,210.5L392.2,211.3L393.0,210.0L394.3,210.8L395.0,212.6L396.6,214.1L397.8,214.6L399.4,215.7L400.4,216.2L400.3,215.8L398.9,214.6L397.1,212.8ZM400.5,216.3L401.4,216.8L402.3,217.4L402.2,217.2Z"/>
<path class="c" fill="#fff7ec" d="M402.8,211.1L403.6,211.8L403.1,212.6L404.2,213.3L403.5,214.6L402.5,215.3L402.2,217.2L400.5,216.3L400.4,216.2L400.3,215.8L398.9,214.6L397.1,212.8L396.1,211.3L396.0,210.3L397.2,210.8L398.6,210.3L400.7,210.5Z"/>
<path class="c" fill="#fc8d59" d="M403.5,214.6L405.3,215.7L406.1,216.4L405.6,217.1L404.6,217.1L404.2,217.7L404.2,218.9L403.4,218.2L402.3,217.4L402.2,217.2L402.5,215.3Z"/>
<path class="c" fill="#d7301f" d="M402.3,208.4L403.5,207.8L405.1,207.9L406.3,208.9L407.9,210.3L407.8,211.3L409.3,212.1L410.0,211.5L410.5,212.8L410.1,213.9L411.5,215.4L410.6,216.3L410.4,217.7L408.8,217.9L409.1,216.7L408.2,215.9L406.9,215.3L406.6,215.9L406.1,216.4L405.3,215.7L403.5,214.6L404.2,213.3L403.1,212.6L403.6,211.8L402.8,211.1L403.5,210.3L402.6,209.5Z"/>
<path class="c" fill="#fdbb84" d="M408.8,217.9L407.6,218.2L406.8,218.8L406.7,220.2L407.2,220.8L407.9,221.5L409.6,221.2L411.2,220.7L411.9,220.2L411.9,219.1L410.4,217.7Z"/>
<path class="c" fill="#fdd49e" d="M413.3,227.3L412.4,226.5L413.2,226.0L412.5,225.5L411.5,223.7L412.0,222.4L412.3,223.0L413.2,223.8L413.8,223.2L415.1,223.3L414.3,221.9L415.1,221.3L416.6,221.2L418.6,221.8L419.1,221.2L419.6,220.2L419.0,219.2L418.6,220.2L416.9,220.4L414.1,219.8L411.9,220.2L411.2,220.7L409.6,221.2L407.9,221.5L407.9,221.9L407.3,223.4L406.9,224.2L406.1,224.5L406.5,224.7L407.8,226.4L408.9,228.1L411.5,228.0L412.6,228.9L410.0,228.1L409.3,229.8L410.3,232.0L411.1,231.5L412.1,233.0L413.5,232.9L412.4,230.0L414.0,230.4L412.9,229.1L413.9,229.0L415.2,229.8L415.1,228.7L415.2,228.9L416.2,228.6L415.3,227.6L413.9,226.4L413.1,226.7L414.0,227.6L414.3,227.9ZM417.2,236.8L420.2,236.7L420.6,236.0L418.0,235.6L415.5,235.1L414.5,235.9L414.7,236.2Z"/>
<path class="c" fill="#ef6548" d="M410.5,212.8L411.4,213.9L414.5,214.1L416.8,214.2L419.6,213.0L423.0,214.0L422.0,215.4L421.5,216.9L422.4,218.5L420.9,218.2L419.4,218.6L419.0,219.2L418.6,220.2L416.9,220.4L414.1,219.8L411.9,220.2L411.9,219.1L410.4,217.7L410.6,216.3L411.5,215.4L410.1,213.9Z"/>
<path class="c" fill="#fdd49e" d="M409.9,203.2L412.2,203.2L414.1,203.8L416.6,203.2L417.4,202.4L419.0,204.1L420.9,205.9L421.6,209.6L423.3,209.9L424.7,210.3L424.8,211.3L423.3,211.8L423.0,212.8L423.0,214.0L419.6,213.0L416.8,214.2L414.5,214.1L411.4,213.9L410.5,212.8L410.0,211.5L409.3,212.1L407.8,211.3L407.9,210.3L406.3,208.9L405.1,207.9L406.9,207.4L407.6,205.7L408.3,204.4Z"/>
<path class="c" fill="#fff7ec" d="M417.4,202.4L419.1,202.0L421.3,202.9L422.7,203.4L423.8,204.9L425.2,207.2L422.9,207.4L422.2,209.5L421.6,209.6L420.9,205.9L419.0,204.1Z"/>
<path class="c" fill="#fee8c8" d="M410.2,194.3L412.8,193.3L417.3,194.0L420.3,194.4L424.0,194.8L424.5,192.9L426.1,192.8L429.4,192.1L430.9,193.0L431.5,194.9L434.0,195.5L435.3,197.0L438.3,197.0L439.5,198.0L441.6,198.5L443.7,199.1L444.3,199.8L444.2,201.1L444.2,203.1L442.5,203.5L441.4,205.4L440.0,205.5L438.8,206.6L436.0,207.2L434.9,207.8L435.7,209.2L436.5,210.0L438.7,209.6L437.7,210.8L436.6,210.8L434.8,212.1L432.9,212.1L432.8,210.4L430.5,209.9L431.8,208.7L432.4,208.0L430.8,208.0L429.1,207.7L427.9,206.7L426.4,206.9L425.6,208.6L424.7,209.6L424.7,210.3L423.3,209.9L421.6,209.6L422.2,209.5L422.9,207.4L425.2,207.2L423.8,204.9L422.7,203.4L421.3,202.9L419.1,202.0L417.4,202.4L416.6,203.2L414.1,203.8L412.2,203.2L409.9,203.2L408.3,202.1L408.9,200.4L409.1,199.2L409.2,198.5L411.5,196.5Z"/>
<path class="c" fill="#fdbb84" d="M409.1,188.2L410.9,188.3L412.9,187.3L413.2,185.8L414.6,184.8L414.4,183.9L416.3,183.6L417.2,182.7L421.4,183.5L422.9,184.3L422.9,186.1L425.2,188.0L427.2,189.4L425.2,190.0L426.1,192.8L424.5,192.9L424.0,194.8L420.3,194.4L417.3,194.0L412.8,193.3L410.2,194.3L410.1,192.8L409.1,192.3L410.4,191.3L410.3,190.5Z"/>
<path class="c" fill="#fdd49e" d="M403.7,184.9L403.6,182.9L405.3,182.1L409.2,182.4L410.9,182.1L413.1,183.2L414.4,183.9L414.6,184.8L413.2,185.8L412.9,187.3L410.9,188.3L409.1,188.2L407.6,187.1L407.0,185.6L405.8,185.4Z"/>
<path class="c" fill="#fc8d59" d="M436.3,129.0L431.1,128.6L427.2,129.1L429.7,129.6L434.6,129.6ZM505.9,132.5L509.3,132.3L510.5,131.6L507.4,130.3L501.8,128.8L498.5,128.0L493.9,128.1L492.5,129.3L494.5,130.3L498.3,131.0L502.6,131.6ZM460.8,139.4L465.9,137.9L467.8,136.5L466.6,136.0L463.0,136.2L459.2,137.1L455.1,137.7L451.9,138.8L449.6,140.0L449.3,142.0L449.2,143.2L453.1,143.2L454.8,142.0L457.1,140.8ZM457.9,149.0L456.2,147.3L453.2,145.4L452.5,143.5L449.3,143.5L447.8,144.5L446.6,146.0L447.3,147.1L449.5,148.6L453.9,149.2ZM73.2,147.3L70.8,147.3L68.4,148.7L71.1,148.6L73.8,147.9ZM56.3,161.0L56.4,162.2L58.0,163.4L59.9,163.1L62.3,161.7L66.8,160.3L69.8,159.2L69.9,158.7L68.7,157.2L65.4,156.5L64.5,155.4L63.4,153.8L61.8,152.7L48.3,161.7L53.0,159.6L54.0,160.8ZM407.0,185.6L405.8,185.4L403.7,184.9L402.0,185.7L401.8,187.0L404.1,187.2L407.6,187.1ZM512.0,131.6L509.3,132.3L512.5,133.6L517.7,133.6L517.6,132.5ZM590.4,140.2L597.7,140.4L595.2,139.4L586.5,138.8L580.6,137.9L574.9,137.7L575.9,139.4L577.2,140.2L581.4,140.4L586.2,140.0ZM585.6,143.2L589.4,143.7L590.9,143.0L586.5,142.2ZM658.6,148.7L656.2,147.3L655.8,148.5ZM411.7,154.5L414.4,155.6L413.4,157.4L415.6,160.1L415.6,162.2L417.3,163.3L416.7,164.5L419.2,165.9L420.0,166.6L419.1,168.0L417.8,169.2L417.1,170.3L414.4,172.1L416.0,172.0L416.8,172.9L419.1,173.5L417.8,173.5L416.1,174.1L415.4,174.6L415.7,174.9L414.7,176.3L415.1,178.2L415.0,179.3L416.0,179.9L417.1,181.9L417.2,182.7L421.4,183.5L422.9,184.3L422.9,186.1L425.2,188.0L427.2,189.4L425.2,190.0L426.1,192.8L429.4,192.1L430.9,193.0L431.5,194.9L434.0,195.5L435.3,197.0L438.3,197.0L439.5,198.0L441.6,198.5L443.7,199.1L444.3,199.8L444.2,201.1L444.2,203.1L442.5,203.5L441.4,205.4L442.8,205.1L443.6,205.4L441.8,206.4L441.9,208.1L440.6,210.0L439.5,209.7L439.0,210.3L440.6,211.0L441.7,211.5L444.5,213.1L446.2,214.4L446.9,214.9L450.1,215.1L452.2,215.4L454.5,216.2L456.7,216.7L458.9,217.2L461.2,218.8L462.0,219.1L464.4,220.6L465.6,218.9L465.0,218.4L462.8,215.9L462.6,214.1L460.7,211.3L461.3,209.2L463.1,208.2L464.3,207.2L463.7,206.7L461.4,203.9L459.9,203.6L458.1,202.1L457.5,198.5L457.3,197.3L460.7,198.5L460.5,196.5L463.9,193.8L467.4,194.3L471.7,195.5L474.5,196.5L477.8,195.8L479.7,195.5L482.8,196.0L485.8,194.8L481.9,192.3L483.2,190.5L482.0,188.3L485.7,187.8L490.0,186.6L494.8,185.6L495.9,184.6L499.6,184.8L501.4,187.5L505.9,188.0L508.4,188.8L512.0,188.0L515.5,189.8L519.2,193.0L522.6,196.0L524.6,196.0L528.4,195.5L530.7,196.3L534.4,199.1L536.1,199.3L539.1,200.1L540.2,200.1L541.2,199.3L543.5,198.0L547.1,196.0L553.5,198.0L558.4,198.5L559.5,196.8L557.4,194.3L558.3,192.8L562.1,193.8L565.5,194.5L567.3,196.5L570.3,197.5L576.0,197.2L581.5,199.7L586.6,199.7L590.2,199.1L592.2,197.4L597.3,198.5L600.0,199.3L601.1,197.3L601.0,194.3L598.8,191.3L599.6,189.8L604.1,189.3L607.8,190.3L610.5,191.3L613.8,194.3L617.6,197.0L618.9,198.5L622.6,199.6L626.9,201.1L629.6,203.9L632.8,203.7L636.1,202.3L636.5,204.4L637.6,208.2L638.1,210.5L635.9,210.3L635.1,211.3L636.9,214.6L636.6,216.4L637.4,217.5L637.7,217.7L639.0,215.7L641.6,216.4L642.7,216.2L645.1,213.3L646.0,210.0L647.0,206.9L646.8,205.1L647.5,201.8L644.2,198.0L643.1,195.5L641.8,192.5L639.5,190.0L635.2,188.0L632.5,188.3L629.4,188.0L624.6,186.6L627.2,185.6L626.0,181.2L626.7,179.0L626.7,177.0L628.5,175.1L634.0,175.1L639.1,174.6L642.1,174.4L646.9,175.8L651.3,175.3L648.2,173.7L647.5,169.9L651.2,169.2L656.7,172.0L657.8,169.4L658.4,167.7L659.3,169.9L659.4,172.2L659.0,174.6L659.4,177.0L658.7,179.4L660.7,183.1L664.2,186.8L669.8,191.8L675.0,195.8L675.6,193.0L673.9,190.5L675.7,189.8L676.3,186.6L674.9,185.6L672.1,182.6L674.9,182.9L673.1,181.4L669.8,179.0L667.3,178.2L666.4,175.8L665.7,173.7L669.1,173.4L671.6,172.5L677.3,173.7L678.0,171.0L680.1,169.2L681.5,167.5L685.9,168.0L681.3,165.2L677.8,163.5L674.6,162.2L677.4,162.6L678.7,161.7L665.2,152.7L661.3,151.8L656.1,151.2L650.7,150.9L645.7,150.3L649.9,153.1L646.8,152.7L642.1,150.9L638.9,151.4L634.5,151.2L631.5,151.4L623.2,148.6L617.6,148.1L613.3,148.6L606.8,146.8L600.9,145.6L596.6,145.4L590.9,144.7L588.2,144.3L588.3,145.8L587.6,147.1L584.4,147.1L582.5,147.5L579.5,147.1L579.2,148.8L576.2,148.3L572.9,147.1L571.4,145.1L567.9,143.7L562.9,142.2L560.2,142.6L557.9,142.6L553.3,144.1L550.2,142.8L545.2,142.6L543.3,143.0L538.1,142.6L536.4,143.2L532.6,144.1L533.7,143.7L536.6,142.0L539.0,141.4L538.1,139.4L536.5,137.5L532.1,136.5L526.0,136.5L523.0,135.4L518.7,134.6L515.5,136.0L512.9,136.9L510.0,137.7L505.7,137.9L501.9,138.8L498.5,140.0L499.1,141.4L496.1,142.4L491.4,143.0L495.0,144.3L498.9,146.8L499.6,148.8L496.3,146.6L492.1,144.3L493.6,146.2L489.5,146.2L488.3,145.6L484.7,145.1L483.3,144.5L483.0,147.3L485.8,149.4L488.4,152.7L489.4,153.8L489.2,155.4L489.1,156.5L488.2,157.8L487.3,157.2L487.3,154.9L486.7,152.7L484.4,150.5L481.8,148.3L481.1,146.2L478.5,144.3L474.6,143.2L474.4,144.1L473.5,145.1L472.9,147.3L473.2,149.0L474.9,151.2L478.8,152.7L478.4,154.2L476.6,154.0L475.1,152.9L472.2,152.3L470.4,152.0L465.4,152.4L464.0,150.9L462.4,152.7L460.2,153.4L456.2,153.8L454.8,154.5L453.9,154.2L451.3,154.0L448.3,154.9L446.0,155.6L445.2,156.9L443.3,157.4L442.2,156.7L441.8,154.5L439.4,153.8L436.4,153.5L437.8,154.9L438.8,156.7L439.8,158.3L440.1,159.4L438.2,158.5L436.3,158.5L434.5,159.4L432.8,160.3L434.1,161.7L434.8,162.9L433.5,162.6L431.1,162.2L428.2,161.2L427.3,161.5L429.6,163.1L431.0,164.2L430.0,164.5L428.1,164.0L424.8,162.9L424.4,161.7L422.5,159.9L420.4,158.3L419.0,156.9L422.9,158.1L425.7,158.7L429.3,159.2L432.7,159.2L434.6,159.0L434.4,157.6L433.6,156.7L432.4,155.6L430.9,154.7L427.6,154.0L424.7,152.7L422.0,152.3L418.5,151.6L416.5,150.6L414.6,150.9L413.6,151.3L412.0,152.6L411.8,152.9ZM652.6,203.1L651.0,199.8L654.8,200.6L651.2,198.0L646.9,194.3L643.8,190.5L639.5,187.0L640.2,189.3L642.8,193.0L646.4,196.8L649.7,200.6L652.4,204.4L655.1,208.2L655.6,206.7L657.8,207.7L656.3,206.4Z"/>
<path class="c" fill="#fdd49e" d="M403.6,182.9L403.3,181.2L403.9,179.9L406.0,178.8L407.3,179.8L408.2,180.7L409.1,180.5L409.2,178.5L410.9,178.1L412.3,178.6L415.0,179.3L416.0,179.9L417.1,181.9L417.2,182.7L416.3,183.6L414.4,183.9L413.1,183.2L410.9,182.1L409.2,182.4L405.3,182.1Z"/>
<path class="c" fill="#ef6548" d="M409.2,178.5L409.3,177.4L407.3,176.8L407.1,175.3L409.3,174.7L411.2,174.4L413.5,174.7L415.4,174.6L415.7,174.9L414.7,176.3L415.1,178.2L415.0,179.3L412.3,178.6L410.9,178.1Z"/>
<path class="c" fill="#d7301f" d="M412.0,152.6L412.1,151.4L409.9,150.4L408.3,150.7L406.7,151.2L406.5,152.3L405.6,153.5L403.5,153.1L401.2,153.4L399.1,152.0L397.9,152.6L399.8,153.5L403.6,155.1L403.8,156.5L404.7,157.6L405.4,159.9L407.8,161.5L406.5,162.4L404.3,164.5L401.9,166.1L401.8,168.0L402.5,169.9L402.4,171.3L402.7,172.0L404.2,172.5L405.9,173.8L409.3,173.1L412.1,172.5L414.4,172.1L417.1,170.3L417.8,169.2L419.1,168.0L420.0,166.6L419.2,165.9L416.7,164.5L417.3,163.3L415.6,162.2L415.6,160.1L413.4,157.4L414.4,155.6L411.7,154.5L411.8,152.9Z"/>
<path class="c" fill="#fc8d59" d="M397.9,152.6L397.4,154.0L394.1,153.8L393.9,155.0L391.0,156.3L390.1,159.0L388.6,159.2L389.0,161.0L387.6,162.6L388.4,163.3L386.0,164.0L385.0,164.9L385.5,168.0L385.8,169.4L387.0,170.3L385.7,171.0L386.6,172.5L385.3,173.8L384.8,175.8L384.3,175.6L384.6,177.5L385.9,179.0L387.2,180.9L388.0,181.6L387.2,182.4L387.7,183.1L388.4,184.2L388.2,184.6L390.7,184.6L391.0,184.2L390.6,183.4L391.5,182.7L393.8,182.9L394.6,181.5L394.8,178.8L394.5,176.8L396.3,176.3L397.4,175.1L398.2,172.9L395.3,171.9L394.6,169.4L394.8,167.7L395.8,167.0L397.4,165.6L399.5,164.5L401.3,162.9L400.4,162.2L401.2,160.9L402.1,160.3L404.0,159.9L405.4,159.9L404.7,157.6L403.8,156.5L403.6,155.1L399.8,153.5Z"/>
<path class="c" fill="#fc8d59" d="M395.4,131.6L401.1,131.4L402.1,130.2L396.2,129.6L391.9,129.5L389.2,130.2L390.9,131.0ZM391.1,135.0L391.5,133.6L395.0,132.7L391.2,132.1L389.4,130.9L386.4,130.3L383.6,130.6L380.0,130.7L379.0,131.4L379.6,132.9L383.5,134.0L384.4,135.2L388.5,136.8L389.6,136.2ZM399.3,134.8L396.7,133.6L394.7,134.6L397.2,135.4ZM385.3,173.8L386.6,172.5L385.7,171.0L387.0,170.3L385.8,169.4L385.5,168.0L385.0,164.9L386.0,164.0L388.4,163.3L387.6,162.6L389.0,161.0L388.6,159.2L390.1,159.0L391.0,156.3L393.9,155.0L394.1,153.8L397.4,154.0L397.9,152.6L399.1,152.0L401.2,153.4L403.5,153.1L405.6,153.5L406.5,152.3L406.7,151.2L408.3,150.7L409.9,150.4L412.1,151.4L412.0,152.6L413.6,151.3L414.6,150.9L413.3,151.1L411.1,150.2L413.1,150.3L414.6,149.6L411.1,148.8L408.8,148.1L407.7,148.2L405.6,148.0L403.6,148.3L402.4,149.1L401.4,149.4L399.8,149.9L398.2,150.1L396.6,150.3L394.9,151.2L392.6,151.4L390.4,152.0L389.4,152.4L387.9,153.6L385.6,155.1L387.2,154.6L389.4,154.9L388.1,156.5L386.8,157.2L385.9,158.3L385.2,159.4L384.8,160.6L383.1,161.9L382.0,163.3L380.4,164.7L378.6,165.2L376.4,166.3L374.6,167.5L373.1,168.2L372.5,169.2L372.4,170.8L372.7,172.5L373.1,173.4L373.1,174.9L373.7,175.8L374.1,176.8L375.9,178.0L376.6,178.2L378.5,178.0L379.6,177.5L381.3,175.9L382.6,175.6L383.3,174.4L384.3,175.6L384.8,175.8Z"/>
<path class="c" fill="#fdbb84" d="M323.3,164.5L324.8,163.8L324.7,163.1L321.4,161.9L325.0,161.5L325.5,160.8L320.8,160.6L322.3,159.2L324.7,158.4L326.4,159.6L328.2,160.1L328.4,159.2L332.0,159.1L335.6,158.3L338.3,158.7L339.8,160.6L339.9,161.7L337.9,163.1L336.7,163.4L333.4,164.5L329.7,165.4L327.1,165.1L325.9,164.4Z"/>
<path class="c" fill="#fdbb84" d="M351.4,187.8L351.6,189.8L351.8,190.8L351.0,192.6L347.7,193.5L344.1,194.4L342.9,192.8L344.7,191.5L344.2,189.5L343.6,189.3L344.1,187.5L346.9,187.3L346.7,186.2L347.5,185.2L349.4,184.6L349.6,185.4L348.8,186.2L347.7,186.9L349.4,187.7Z"/>
<path class="c" fill="#fdbb84" d="M391.4,208.3L391.0,207.4L391.6,206.9L388.9,206.4L388.3,205.5L386.4,205.8L386.0,206.2L384.9,206.0L384.9,206.8L384.2,206.7L384.3,207.6L383.1,207.4L382.5,206.9L382.1,208.6L380.8,207.1L380.1,207.7L379.6,208.4L378.0,208.4L377.5,208.7L378.1,209.7L377.2,210.5L378.0,211.5L377.8,212.4L379.5,213.0L379.1,213.9L380.3,213.6L382.0,212.3L383.9,213.2L384.5,213.3L385.0,214.5L385.4,215.9L386.8,217.5L388.2,218.1L389.3,219.1L391.0,220.4L392.4,220.4L393.6,221.5L394.1,222.0L395.2,222.6L396.0,223.7L397.0,223.9L397.9,226.3L397.4,227.2L397.1,228.9L397.9,229.0L398.9,227.8L400.1,226.3L398.6,224.4L398.7,223.4L400.0,222.5L401.5,223.0L402.5,224.2L402.8,223.4L401.6,222.0L399.2,220.8L397.0,219.8L397.6,218.8L395.2,218.6L393.3,217.3L392.6,216.2L391.8,214.4L389.7,213.3L389.0,212.6L389.3,211.0L388.9,210.8L389.1,209.7L390.5,209.1L391.3,208.9L391.7,209.2ZM381.4,223.9L381.4,226.5L382.8,226.3L384.0,225.7L384.3,222.4L382.9,220.4L381.1,220.8L380.8,221.3L380.8,222.1ZM394.6,232.0L396.2,232.2L396.0,230.2L396.8,228.1L395.2,228.7L392.1,228.5L390.7,228.5L390.1,229.4L392.5,230.7Z"/>
<path class="c" fill="#ef6548" d="M464.3,207.2L463.7,206.7L461.4,203.9L459.9,203.6L458.1,202.1L457.5,198.5L457.3,197.3L460.7,198.5L460.5,196.5L463.9,193.8L467.4,194.3L471.7,195.5L474.5,196.5L477.8,195.8L479.7,195.5L482.8,196.0L485.8,194.8L481.9,192.3L483.2,190.5L482.0,188.3L485.7,187.8L490.0,186.6L494.8,185.6L495.9,184.6L499.6,184.8L501.4,187.5L505.9,188.0L508.4,188.8L512.0,188.0L515.5,189.8L519.2,193.0L522.6,196.0L524.6,196.0L528.4,195.5L530.7,196.3L534.4,199.1L536.1,199.3L539.1,200.1L538.9,201.8L536.8,202.1L537.9,205.4L532.7,205.1L533.0,209.5L533.7,210.3L532.4,210.0L528.8,210.8L530.4,212.8L531.3,215.9L531.9,218.0L528.8,216.4L526.6,216.2L521.8,216.2L519.5,215.4L517.1,215.9L517.6,217.2L513.7,216.4L512.3,217.2L512.4,217.9L511.3,218.8L509.0,220.0L506.9,220.7L504.3,220.7L503.3,218.5L501.9,217.5L501.4,215.9L498.8,214.1L497.8,214.4L492.7,214.6L490.0,212.3L483.9,209.4L479.2,210.8L481.7,220.3L479.5,220.3L476.8,217.6L474.8,218.2L474.0,219.1L473.1,216.4L470.3,214.9L467.4,211.8L469.7,211.8L472.1,209.7L472.0,206.9L469.6,205.7L466.7,206.2Z"/>
<path class="c" fill="#ef6548" d="M531.9,218.0L528.8,220.0L525.9,221.3L523.4,222.1L520.6,223.4L520.4,225.1L516.9,225.4L513.6,224.7L511.0,224.7L511.3,223.4L513.3,223.2L515.7,223.2L518.0,221.9L516.5,221.0L514.4,220.3L512.2,220.0L511.4,219.5L512.4,217.9L512.3,217.2L513.7,216.4L517.6,217.2L517.1,215.9L519.5,215.4L521.8,216.2L526.6,216.2L528.8,216.4Z"/>
<path class="c" fill="#fff7ec" d="M481.7,220.3L479.2,210.8L483.9,209.4L490.0,212.3L492.7,214.6L497.8,214.4L498.8,214.1L501.4,215.9L501.9,217.5L503.3,218.5L504.3,220.7L506.9,220.7L509.0,220.0L511.3,218.8L512.4,217.9L511.4,219.5L512.2,220.0L514.4,220.3L516.5,221.0L518.0,221.9L515.7,223.2L513.3,223.2L512.6,221.3L510.6,221.9L509.9,223.2L509.2,223.4L508.3,225.0L507.1,225.2L508.3,226.5L509.9,228.3L509.5,230.9L506.6,230.6L506.3,228.9L503.8,228.1L500.6,226.4L496.3,223.7L494.2,220.8L490.2,220.0L489.5,218.0L486.2,216.7L485.1,217.2L483.8,220.3Z"/>
<path class="c" fill="#fdd49e" d="M540.2,200.1L541.2,199.3L543.5,198.0L547.1,196.0L553.5,198.0L558.4,198.5L559.5,196.8L557.4,194.3L558.3,192.8L562.1,193.8L565.5,194.5L567.3,196.5L570.3,197.5L576.0,197.2L581.5,199.7L586.6,199.7L590.2,199.1L592.2,197.4L597.3,198.5L597.3,200.8L598.0,202.6L602.5,203.6L603.9,203.4L608.6,206.4L604.9,206.7L604.0,207.2L602.5,207.4L601.9,209.7L599.5,209.7L598.5,211.4L594.9,210.8L594.4,212.3L596.4,214.1L593.9,216.8L588.9,217.3L584.7,219.5L583.3,218.9L576.2,217.1L566.9,216.6L565.3,216.6L561.5,212.7L556.7,210.9L551.3,210.3L549.0,206.7L549.2,205.7L546.2,203.5L542.9,202.6Z"/>
<path class="c" fill="#fdd49e" d="M539.1,200.1L538.9,201.8L536.8,202.1L537.9,205.4L532.7,205.1L533.0,209.5L533.7,210.3L532.4,210.0L528.8,210.8L530.4,212.8L531.3,215.9L531.9,218.0L528.8,220.0L525.9,221.3L523.4,222.1L520.6,223.4L520.4,225.1L521.6,227.6L523.6,227.6L524.7,229.1L524.7,230.9L526.1,231.9L527.3,232.5L528.5,234.5L532.2,235.4L532.6,235.4L535.4,238.5L536.5,239.3L536.1,241.1L535.4,242.9L536.9,243.5L536.8,246.1L539.6,247.4L542.6,249.2L544.8,248.9L547.4,250.8L549.9,252.3L552.9,253.6L554.9,254.9L557.2,254.9L559.7,255.2L561.2,254.9L561.8,256.8L561.9,256.2L563.3,254.4L564.9,254.7L567.2,254.9L568.6,255.5L570.3,254.2L573.3,251.5L575.2,252.2L577.1,251.8L580.1,254.4L582.5,256.0L583.5,256.2L584.4,260.4L582.5,263.3L582.9,265.6L585.3,265.1L586.1,267.5L587.3,267.7L587.2,270.1L588.9,270.6L589.8,271.9L592.0,272.7L593.5,272.7L593.8,269.6L594.5,268.8L597.7,269.0L599.6,268.2L601.0,267.5L603.6,268.2L604.9,270.6L607.5,271.8L608.0,271.6L609.9,271.9L611.3,272.2L611.9,274.8L613.3,275.0L613.2,272.7L614.2,271.9L617.4,271.1L619.5,270.1L621.0,269.8L622.6,268.8L625.9,268.0L626.7,266.7L628.9,264.1L630.3,262.2L631.2,260.4L631.5,258.3L632.8,254.9L633.5,252.6L633.5,250.0L632.2,249.2L630.7,248.2L632.2,247.4L631.3,244.8L628.3,241.9L625.9,239.3L623.0,237.5L622.6,236.4L623.8,234.1L624.7,232.5L627.3,231.7L627.3,230.7L624.7,230.2L622.0,229.9L619.7,230.9L618.9,229.6L615.6,228.1L614.9,226.5L616.4,226.0L618.1,223.9L619.3,221.3L622.4,222.4L622.2,225.0L622.5,226.9L623.2,226.5L625.3,224.7L627.7,223.9L629.9,221.3L630.6,219.1L632.8,218.5L634.3,218.0L635.1,216.0L637.4,217.5L636.6,216.4L636.9,214.6L635.1,211.3L635.9,210.3L638.1,210.5L637.6,208.2L636.5,204.4L636.1,202.3L632.8,203.7L629.6,203.9L626.9,201.1L622.6,199.6L618.9,198.5L617.6,197.0L613.8,194.3L610.5,191.3L607.8,190.3L604.1,189.3L599.6,189.8L598.8,191.3L601.0,194.3L601.1,197.3L600.0,199.3L597.3,198.5L597.3,200.8L598.0,202.6L602.5,203.6L603.9,203.4L608.6,206.4L604.9,206.7L604.0,207.2L602.5,207.4L601.9,209.7L599.5,209.7L598.5,211.4L594.9,210.8L594.4,212.3L596.4,214.1L593.9,216.8L588.9,217.3L584.7,219.5L583.3,218.9L576.2,217.1L566.9,216.6L565.3,216.6L561.5,212.7L556.7,210.9L551.3,210.3L549.0,206.7L549.2,205.7L546.2,203.5L542.9,202.6L540.2,200.1ZM612.2,280.5L613.2,280.0L614.2,278.9L615.0,276.9L614.1,275.6L611.9,275.8L610.4,276.6L609.9,277.9Z"/>
<path class="c" fill="#fff7ec" d="M532.2,235.4L532.6,235.4L535.4,238.5L536.5,239.3L536.1,241.1L535.4,242.9L536.9,243.5L536.8,246.1L539.6,247.4L542.6,249.2L541.4,251.8L541.4,252.9L544.1,254.2L547.7,255.7L550.8,256.4L554.0,258.2L557.3,259.0L560.4,259.1L559.8,257.0L559.7,255.2L561.2,254.9L561.8,256.8L562.0,257.8L564.1,258.3L566.7,258.1L569.1,257.9L568.6,255.5L570.3,254.2L573.3,251.5L575.2,252.2L577.1,251.8L580.1,254.4L579.9,257.3L578.0,256.8L576.3,260.2L575.6,262.2L576.3,265.4L575.1,265.8L573.2,265.4L573.8,268.0L573.5,270.1L572.4,270.6L571.4,268.0L570.9,266.2L569.8,268.0L568.6,266.2L568.4,265.1L570.3,263.0L570.7,262.8L565.3,262.2L564.8,262.0L564.4,260.2L562.4,259.1L561.1,258.9L560.7,260.7L562.8,262.2L561.0,263.6L562.8,264.9L563.2,267.5L564.2,270.1L564.5,271.4L562.6,271.6L560.0,272.2L560.2,274.0L559.7,275.3L557.8,276.3L556.2,277.9L554.5,280.3L552.8,281.8L550.8,284.4L548.7,285.5L548.1,286.8L546.3,288.9L546.6,292.8L547.2,293.8L547.2,296.7L546.5,299.3L546.7,301.1L545.4,301.1L544.9,303.9L543.1,304.8L541.7,306.9L540.1,305.8L538.6,302.2L537.2,298.5L534.7,294.3L532.6,289.4L531.8,287.6L530.3,283.6L528.7,278.4L528.1,275.8L528.0,272.9L527.0,270.1L526.5,271.1L524.0,273.7L522.6,273.5L519.0,269.9L521.8,268.2L519.7,268.4L516.9,266.2L518.0,264.6L520.1,264.9L522.9,264.3L521.8,260.9L520.2,258.9L518.6,257.6L520.4,254.9L523.6,255.1L524.0,253.9L526.0,250.0L526.9,249.2L528.0,246.9L527.5,244.8L529.0,243.7L527.2,242.4L525.4,241.4L524.3,238.5L524.5,237.5L526.7,237.6L528.8,237.5L530.7,236.9L530.7,236.4Z"/>
<path class="c" fill="#fdd49e" d="M564.5,271.4L564.2,270.1L563.2,267.5L562.8,264.9L561.0,263.6L562.8,262.2L560.7,260.7L561.1,258.9L562.4,259.1L564.4,260.2L564.8,262.0L565.3,262.2L570.7,262.8L570.3,263.0L568.4,265.1L568.6,266.2L569.8,268.0L570.9,266.2L571.4,268.0L572.4,270.6L572.7,272.4L572.2,274.0L571.2,271.9L570.5,269.8L568.6,269.0L567.7,270.6L565.9,271.1Z"/>
<path class="c" fill="#fff7ec" d="M572.4,270.6L573.5,270.1L573.8,268.0L573.2,265.4L575.1,265.8L576.3,265.4L575.6,262.2L576.3,260.2L578.0,256.8L579.9,257.3L580.1,254.4L582.5,256.0L583.5,256.2L584.4,260.4L582.5,263.3L582.9,265.6L585.3,265.1L586.1,267.5L587.3,267.7L587.2,270.1L588.9,270.6L589.8,271.9L592.0,272.7L591.1,274.8L590.0,274.9L588.6,275.0L587.5,276.6L585.5,276.6L585.3,279.7L585.5,281.3L588.1,285.5L587.5,288.3L590.4,293.6L591.2,297.2L590.5,299.6L590.0,301.1L589.6,302.0L589.2,298.0L589.4,295.1L587.9,292.0L587.1,288.9L586.1,286.3L585.0,284.7L583.9,283.1L582.6,284.9L581.0,286.8L578.4,286.3L578.3,282.3L577.4,278.9L575.7,276.6L574.0,275.3L572.2,274.0L572.7,272.4Z"/>
<path class="c" fill="#fdd49e" d="M589.6,302.0L590.0,301.1L590.5,299.6L591.2,297.2L590.4,293.6L587.5,288.3L588.1,285.5L585.5,281.3L585.3,279.7L585.5,276.6L587.5,276.6L588.6,275.0L590.0,274.9L591.2,276.9L592.8,277.1L593.2,281.0L593.1,282.1L595.2,281.3L596.6,281.2L598.2,280.0L599.6,280.3L601.5,282.3L602.2,285.2L604.0,287.0L604.3,289.1L603.8,290.7L601.0,290.6L598.8,290.9L597.8,292.5L597.8,294.3L599.2,297.6L597.5,296.2L594.6,295.0L594.2,293.0L592.8,292.8L592.2,295.1L591.9,297.2L591.0,300.9L591.5,303.7L593.2,305.8L594.1,309.2L595.7,310.0L597.6,311.2L598.4,311.7L597.7,312.9L596.1,313.1L595.6,311.7L594.2,310.5L593.7,311.2L592.8,310.0L591.5,307.9L590.0,306.3L589.2,304.8L589.4,303.2Z"/>
<path class="c" fill="#fdbb84" d="M594.4,313.6L595.1,316.3L595.9,318.1L597.1,320.4L599.7,322.5L602.0,324.6L603.8,324.3L602.0,321.2L601.7,318.9L601.7,316.0L600.5,313.6L598.4,311.7L597.7,312.9L596.1,313.1L595.6,311.7L594.2,310.5L593.7,311.2ZM616.2,323.8L618.2,325.8L621.2,325.4L622.1,324.1L625.5,324.6L627.8,324.1L628.7,320.7L629.8,319.1L630.6,316.8L634.1,317.0L635.2,316.8L635.8,315.2L638.0,314.4L636.4,313.6L634.3,312.5L633.3,310.8L631.8,309.9L630.6,311.8L629.5,313.6L629.0,315.2L628.5,316.5L627.6,317.6L626.2,316.0L625.3,317.6L623.8,319.7L621.5,320.4L619.7,320.7L620.2,321.9L619.8,324.1L618.1,323.4L616.2,322.7Z"/>
<path class="c" fill="#fdd49e" d="M637.6,286.0L636.5,286.3L637.6,289.1L638.8,289.4L639.0,290.7L640.1,292.3L642.1,291.7L643.9,293.6L645.6,294.1L647.5,295.1L646.9,292.3L645.3,291.7L643.7,290.7L641.3,289.6L640.6,286.5L641.8,285.5L641.6,282.6L640.3,280.3L637.2,279.7L637.2,282.3ZM641.6,295.1L640.6,292.9L638.6,293.0L639.6,294.3L640.8,296.2ZM649.8,301.6L650.7,301.4L651.6,298.8L650.3,295.4L648.0,295.3L649.0,298.0L648.7,299.6ZM644.7,300.9L644.4,302.7L645.9,304.0L645.9,299.6L645.3,297.7L642.7,296.9L643.1,298.5L643.1,300.6ZM647.7,298.8L646.6,301.9L646.8,303.5L648.2,301.9ZM638.0,300.6L637.1,300.3L634.4,304.0L632.7,306.1L634.1,305.8L636.2,303.0ZM648.6,309.2L649.2,312.3L651.9,310.3L652.1,313.4L653.8,311.6L654.3,309.0L653.9,305.8L651.7,302.4L651.2,304.3L649.0,305.6L646.9,305.3L645.3,307.6L644.0,309.7L644.7,310.0L646.9,308.4Z"/>
<path class="c" fill="#fc8d59" d="M422.4,218.5L422.7,219.5L424.9,220.6L427.5,220.7L429.8,220.3L432.9,218.5L434.5,218.5L437.4,218.4L439.3,219.3L440.3,220.3L441.6,220.7L444.7,221.2L447.4,221.1L450.0,220.3L451.1,219.7L453.1,219.9L455.3,220.8L456.0,221.9L456.2,223.4L458.8,224.4L458.1,225.2L457.4,225.4L458.3,227.8L458.3,229.1L459.4,230.4L459.9,231.1L458.2,230.7L455.6,230.6L454.7,231.2L451.8,231.2L449.8,232.0L447.0,232.2L443.3,232.4L442.5,232.0L442.5,233.4L441.8,234.5L441.3,234.3L441.6,232.5L440.3,232.5L438.1,232.0L436.4,233.7L434.6,233.9L432.6,232.6L429.7,231.9L429.4,233.3L427.6,233.6L424.6,232.2L422.6,232.2L422.5,231.5L421.9,229.6L419.8,228.1L421.1,227.7L420.5,226.3L420.2,225.5L419.0,225.0L419.2,223.7L419.1,223.5L418.6,221.8L419.1,221.2L419.6,220.2L419.0,219.2L419.4,218.6L420.9,218.2Z"/>
<path class="c" fill="#fc8d59" d="M446.9,214.9L450.1,215.1L452.2,215.4L454.5,216.2L456.7,216.7L458.9,217.2L461.2,218.8L461.3,219.8L462.0,220.3L461.0,220.6L458.5,220.4L456.4,220.6L455.3,220.8L453.1,219.9L451.1,219.7L451.0,218.2L449.2,216.0Z"/>
<path class="c" fill="#d7301f" d="M458.5,220.4L460.0,221.6L461.0,223.0L462.5,225.0L462.8,226.6L462.0,226.6L461.1,225.1L459.2,224.2L458.8,224.4L456.2,223.4L456.0,221.9L455.3,220.8L456.4,220.6Z"/>
<path class="c" fill="#fee8c8" d="M461.3,219.8L462.0,220.3L461.0,220.6L458.5,220.4L460.0,221.6L461.0,223.0L462.5,225.0L462.8,226.6L463.7,225.7L465.2,224.6L466.5,225.2L465.8,225.5L466.8,227.3L468.1,227.7L468.8,225.5L468.8,225.0L468.5,223.2L470.3,222.8L467.5,221.1L465.6,218.9L464.4,220.6L462.0,219.1L461.2,218.8ZM459.4,225.2L460.5,226.3L462.0,226.6L461.1,225.1L459.2,224.2L458.8,224.4Z"/>
<path class="c" fill="#fdd49e" d="M433.7,236.9L434.5,236.3L435.1,235.8L437.2,235.5L438.4,235.0L437.3,236.7L435.3,237.7L434.1,237.5Z"/>
<path class="c" fill="#fff7ec" d="M454.7,231.2L455.6,230.6L458.2,230.7L459.9,231.1L461.7,234.1L463.4,234.9L463.0,237.7L462.8,239.4L464.6,241.4L467.5,243.5L468.9,247.1L469.6,248.5L471.0,249.9L469.6,249.7L469.0,249.5L467.8,250.0L466.8,252.1L462.7,251.8L456.3,246.9L452.3,244.6L449.6,244.1L448.4,240.9L452.8,238.2L453.1,237.2L452.7,233.0Z"/>
<path class="c" fill="#fdd49e" d="M449.6,244.1L448.8,244.5L445.0,245.8L447.5,248.4L446.7,248.9L446.5,249.7L444.9,250.1L443.5,251.8L441.0,251.4L441.2,254.7L442.6,255.7L445.1,259.9L446.9,263.0L449.1,265.4L451.4,268.8L451.8,272.2L454.0,275.0L455.9,276.9L457.7,280.5L459.7,282.9L460.7,285.2L461.8,284.4L462.2,282.3L464.0,282.6L466.3,282.6L469.0,283.1L470.4,283.8L472.5,280.5L474.9,279.5L481.4,278.4L488.0,275.8L489.1,270.6L487.9,268.8L482.0,268.1L479.5,265.1L479.4,264.7L478.4,263.8L477.5,263.4L475.8,260.9L475.2,258.3L473.4,256.2L472.2,255.5L471.1,253.6L469.5,253.6L468.8,252.3L466.8,252.1L462.7,251.8L456.3,246.9L452.3,244.6Z"/>
<path class="c" fill="#fff7ec" d="M448.4,240.9L444.3,243.7L441.9,242.5L441.5,243.5L441.8,245.8L441.6,247.1L441.0,250.8L441.0,251.4L443.5,251.8L444.9,250.1L446.5,249.7L446.7,248.9L447.5,248.4L445.0,245.8L448.8,244.5L449.6,244.1Z"/>
<path class="c" fill="#fdd49e" d="M479.4,264.7L481.7,264.9L483.9,265.1L485.7,264.3L487.4,262.0L488.8,260.3L488.9,260.0L489.1,260.8L489.5,261.2L489.9,262.8L489.2,263.3L488.9,264.9L488.9,265.4L488.3,265.5L488.5,266.4L487.9,268.8L482.0,268.1L479.5,265.1Z"/>
<path class="c" fill="#fdd49e" d="M489.1,260.8L489.5,261.2L489.9,260.2L489.6,259.2L488.9,260.0ZM489.2,263.3L488.9,264.9L488.9,265.4L488.3,265.5L488.5,266.4L487.9,268.8L489.1,270.6L488.0,275.8L481.4,278.4L484.4,284.6L488.2,283.8L489.2,282.3L491.4,281.3L492.4,279.2L494.4,278.4L494.3,275.3L496.5,274.5L497.4,272.2L498.3,269.2L495.3,266.4L493.5,266.2L491.1,264.9L489.9,262.8Z"/>
<path class="c" fill="#fff7ec" d="M459.3,332.4L457.7,334.0L456.1,335.0L455.9,336.3L454.9,338.6L453.7,340.2L450.3,337.1L450.1,335.8L441.6,330.6L441.9,327.5L443.0,325.1L444.2,323.0L442.7,318.3L441.8,317.0L446.1,316.0L448.5,316.4L451.3,318.6L454.5,319.1L457.4,316.9L460.0,317.6L458.0,320.7L458.0,330.2Z"/>
<path class="c" fill="#fff7ec" d="M453.9,344.4L454.5,344.7L454.2,343.3L453.7,343.0ZM450.3,337.1L450.1,335.8L441.6,330.6L436.6,330.6L433.7,330.8L434.6,332.3L433.9,334.3L434.6,336.5L433.7,337.4L432.6,339.2L431.2,339.6L431.4,343.7L434.3,349.5L436.8,351.5L439.1,352.5L441.5,352.8L442.8,354.1L443.6,358.2L447.1,358.5L450.6,357.5L456.3,355.4L454.8,354.1L454.2,351.4L453.8,350.4L454.3,348.6L453.9,345.7L452.8,344.4L452.8,343.4L453.5,341.3L453.7,340.2Z"/>
<path class="c" fill="#fc8d59" d="M435.2,397.9L433.3,399.2L432.3,397.9L432.4,396.6L432.9,395.2L433.8,395.1L435.0,395.7L435.2,391.9L434.1,386.4L429.7,385.9L427.3,387.0L426.3,388.0L423.8,391.3L420.8,395.1L417.9,395.1L415.0,394.0L414.4,394.5L412.6,397.5L409.7,398.2L408.4,392.6L408.0,402.1L405.7,403.4L403.5,403.3L402.2,402.9L400.1,402.6L401.3,405.2L403.8,411.0L402.7,413.8L403.7,416.5L403.7,417.6L404.6,417.8L405.5,417.9L407.0,418.8L411.8,417.1L414.5,417.0L417.6,417.2L419.5,416.6L422.3,415.8L424.6,414.1L425.8,413.3L429.6,409.7L432.1,406.0L435.5,402.1L437.0,398.1ZM425.0,403.4L425.7,402.8L427.7,403.0L428.7,404.5L428.7,405.2L427.9,406.3L425.8,408.0L424.1,407.1L423.3,405.2Z"/>
<path class="c" fill="#fff7ec" d="M423.3,405.2L425.0,403.4L425.7,402.8L427.7,403.0L428.7,404.5L428.7,405.2L427.9,406.3L425.8,408.0L424.1,407.1Z"/>
<path class="c" fill="#fdd49e" d="M493.2,380.7L493.9,380.1L494.3,381.0L493.6,381.5Z"/>
<path class="c" fill="#fff7ec" d="M153.0,290.0L153.2,288.2L154.4,286.1L157.4,286.1L157.6,285.2L155.5,283.0L156.7,281.6L160.9,281.5L160.2,286.5L160.9,286.5L162.4,287.0L159.9,289.4L159.5,290.4L157.6,292.1L154.6,291.7Z"/>
<path class="c" fill="#fc8d59" d="M157.6,292.1L159.5,290.4L161.3,291.6L163.1,292.0L162.7,293.6L161.1,293.6L158.2,292.6Z"/>
<path class="c" fill="#fdd49e" d="M171.8,271.0L174.2,268.8L176.6,268.0L178.0,267.6L181.1,267.7L183.3,268.2L186.5,269.8L189.0,271.4L191.8,272.7L192.8,273.7L195.7,275.2L193.7,276.1L191.9,275.9L187.5,276.2L189.2,274.0L186.4,274.0L185.1,271.6L181.9,270.6L179.0,270.1L178.6,269.6L176.3,270.1L175.2,270.1L173.2,271.1Z"/>
<path class="c" fill="#fff7ec" d="M181.9,324.2L184.2,325.9L188.3,327.2L189.9,328.3L189.3,332.0L187.0,334.8L183.4,336.9L182.3,339.7L181.7,341.0L180.1,339.6L178.4,339.6L178.9,338.2L178.5,336.9L179.4,334.8L179.4,334.0L177.1,334.0L176.9,333.7L177.0,330.7L178.9,328.0L178.9,325.9L179.9,325.5Z"/>
<path class="c" fill="#fdd49e" d="M189.9,328.3L192.0,329.3L193.9,331.3L195.5,334.3L198.1,333.7L202.1,335.0L200.7,337.9L202.4,339.0L200.5,339.1L195.7,341.6L195.1,343.9L194.0,346.0L193.4,347.6L196.1,351.7L197.6,353.0L197.8,354.1L201.5,353.8L201.7,356.7L204.0,356.6L206.4,360.6L205.8,363.5L205.2,366.6L205.9,367.9L204.8,368.4L206.3,370.3L206.0,371.3L205.6,373.7L204.7,375.2L203.8,375.9L201.4,374.1L199.5,372.4L195.6,370.5L192.2,368.3L189.2,364.4L188.5,361.9L186.8,359.4L185.4,356.7L184.1,354.1L183.0,351.7L182.0,349.1L179.8,346.0L176.9,343.7L176.3,340.2L177.2,338.2L178.5,336.9L178.9,338.2L178.4,339.6L180.1,339.6L181.7,341.0L182.3,339.7L183.4,336.9L187.0,334.8L189.3,332.0Z"/>
<path class="c" fill="#fff7ec" d="M232.0,312.5L234.9,312.5L236.6,312.6L239.4,313.0L238.2,315.0L238.7,318.6L237.7,321.9L234.7,323.2L233.3,322.9L231.5,319.3L229.8,317.6L230.3,315.2L231.6,314.2Z"/>
<path class="c" fill="#fff7ec" d="M239.4,313.0L241.8,313.8L243.1,315.2L244.6,317.0L242.3,321.5L241.6,322.3L237.7,321.9L238.7,318.6L238.2,315.0Z"/>
<path class="c" fill="#fee8c8" d="M235.8,412.8L236.1,406.8L239.4,401.8L241.4,399.8L243.5,398.8L243.5,396.4L241.2,394.8L241.3,397.7L238.9,399.4L237.8,399.8L232.8,399.1L234.3,394.0L231.6,392.7L228.6,390.6L226.3,390.1L222.2,386.1L219.3,385.4L218.6,387.5L216.4,385.7L213.9,384.9L212.2,387.5L212.6,388.0L212.2,390.6L209.9,391.9L211.0,398.2L209.6,400.3L208.6,402.4L208.3,404.5L208.9,406.8L208.1,409.4L210.2,414.1L211.3,417.2L210.5,420.1L210.2,423.2L210.8,427.1L210.8,431.0L211.8,434.9L213.0,438.8L214.5,441.9L214.5,443.9L216.4,446.5L216.9,449.6L216.5,451.9L217.4,454.7L216.1,456.2L217.7,459.5L219.7,460.0L220.6,462.2L221.8,463.0L225.5,463.0L229.0,463.9L226.7,462.0L226.0,458.7L227.6,456.2L229.8,452.6L229.5,450.9L227.8,450.3L224.9,447.8L225.5,446.5L228.6,445.2L227.8,442.7L227.5,439.6L228.6,439.8L230.3,439.1L229.1,438.0L226.5,436.2L226.0,434.4L228.8,435.3L231.8,433.9L230.6,429.2L233.3,429.7L237.9,428.7L240.1,427.1L241.0,422.7L239.6,422.4L239.4,420.1L236.4,418.3L236.1,416.7ZM231.4,470.2L235.6,470.6L237.8,469.6L231.9,467.5L229.8,465.2L228.9,464.6Z"/>
<path class="c" fill="#fff7ec" d="M770.8,372.4L773.1,371.3L773.3,370.3L769.8,371.8ZM766.3,375.0L767.2,375.7L769.4,375.0L768.9,373.4L766.5,373.9Z"/>
</g>
<g id="legend">
<rect x="128" y="517" width="48" height="11" fill="url(#h)" stroke="#bdbdbd" stroke-width="0.8"/>
<line x1="152" y1="514" x2="152" y2="517" stroke="#bdbdbd" stroke-width="0.8"/>
<text class="lg" x="152" y="510" text-anchor="middle">No data</text>
<rect x="195" y="517" width="66" height="11" fill="#fff7ec"/>
<rect x="261" y="517" width="66" height="11" fill="#fee8c8"/>
<rect x="327" y="517" width="66" height="11" fill="#fdd49e"/>
<rect x="393" y="517" width="65.5" height="11" fill="#fdbb84"/>
<rect x="458.5" y="517" width="66" height="11" fill="#fc8d59"/>
<rect x="524.5" y="517" width="65.5" height="11" fill="#ef6548"/>
<rect x="590" y="517" width="65.5" height="11" fill="#d7301f"/>
<path d="M655.5,517H716L722,522.5L716,528H655.5Z" fill="#990000"/>
<path d="M195,517H716M195,528H716" stroke="#c9c9c9" stroke-width="0.5" fill="none" opacity="0.0"/>
<rect x="195" y="517" width="460.5" height="11" fill="none" stroke="#d6cfc8" stroke-width="0.6"/>
<path d="M195,513.5V517.5" stroke="#b0b0b0" stroke-width="0.7" fill="none"/><path d="M261,513.5V528M327,513.5V528M393,513.5V528M458.5,513.5V528M524.5,513.5V528M590,513.5V528M655.5,513.5V528" stroke="#8f8f8f" stroke-width="0.7" fill="none"/>
<text class="lg" x="195.5" y="510" text-anchor="middle">0 kg</text>
<text class="lg" x="261" y="510" text-anchor="middle">10 kg</text>
<text class="lg" x="327" y="510" text-anchor="middle">30 kg</text>
<text class="lg" x="393" y="510" text-anchor="middle">100 kg</text>
<text class="lg" x="458.5" y="510" text-anchor="middle">300 kg</text>
<text class="lg" x="524.5" y="510" text-anchor="middle">1,000 kg</text>
<text class="lg" x="590" y="510" text-anchor="middle">3,000 kg</text>
<text class="lg" x="655.5" y="510" text-anchor="middle">10,000 kg</text>
</g>
</svg>
<div id="title">Hazardous waste generated per capita, 2022</div>
<div id="sub"><span style="letter-spacing:0.36px">Hazardous waste is waste with properties that make it hazardous or capable of having a harmful effect on</span><br><span style="letter-spacing:0.40px">human health or the environment. It ranges from industrial manufacturing process waste to domestic items such</span><br><span style="letter-spacing:0.05px">as batteries.</span></div>
<div id="logo"><div style="top:5.8px">Our World</div><div style="top:17.3px">in Data</div></div>
<div id="foot"><b style="letter-spacing:-0.42px">Data source:</b><span style="letter-spacing:0.06px"> United Nations Statistics Division and United Nations Environment Programme</span><br><span style="letter-spacing:0.03px">OurWorldinData.org/waste-management | CC BY</span></div>
</body></html>
